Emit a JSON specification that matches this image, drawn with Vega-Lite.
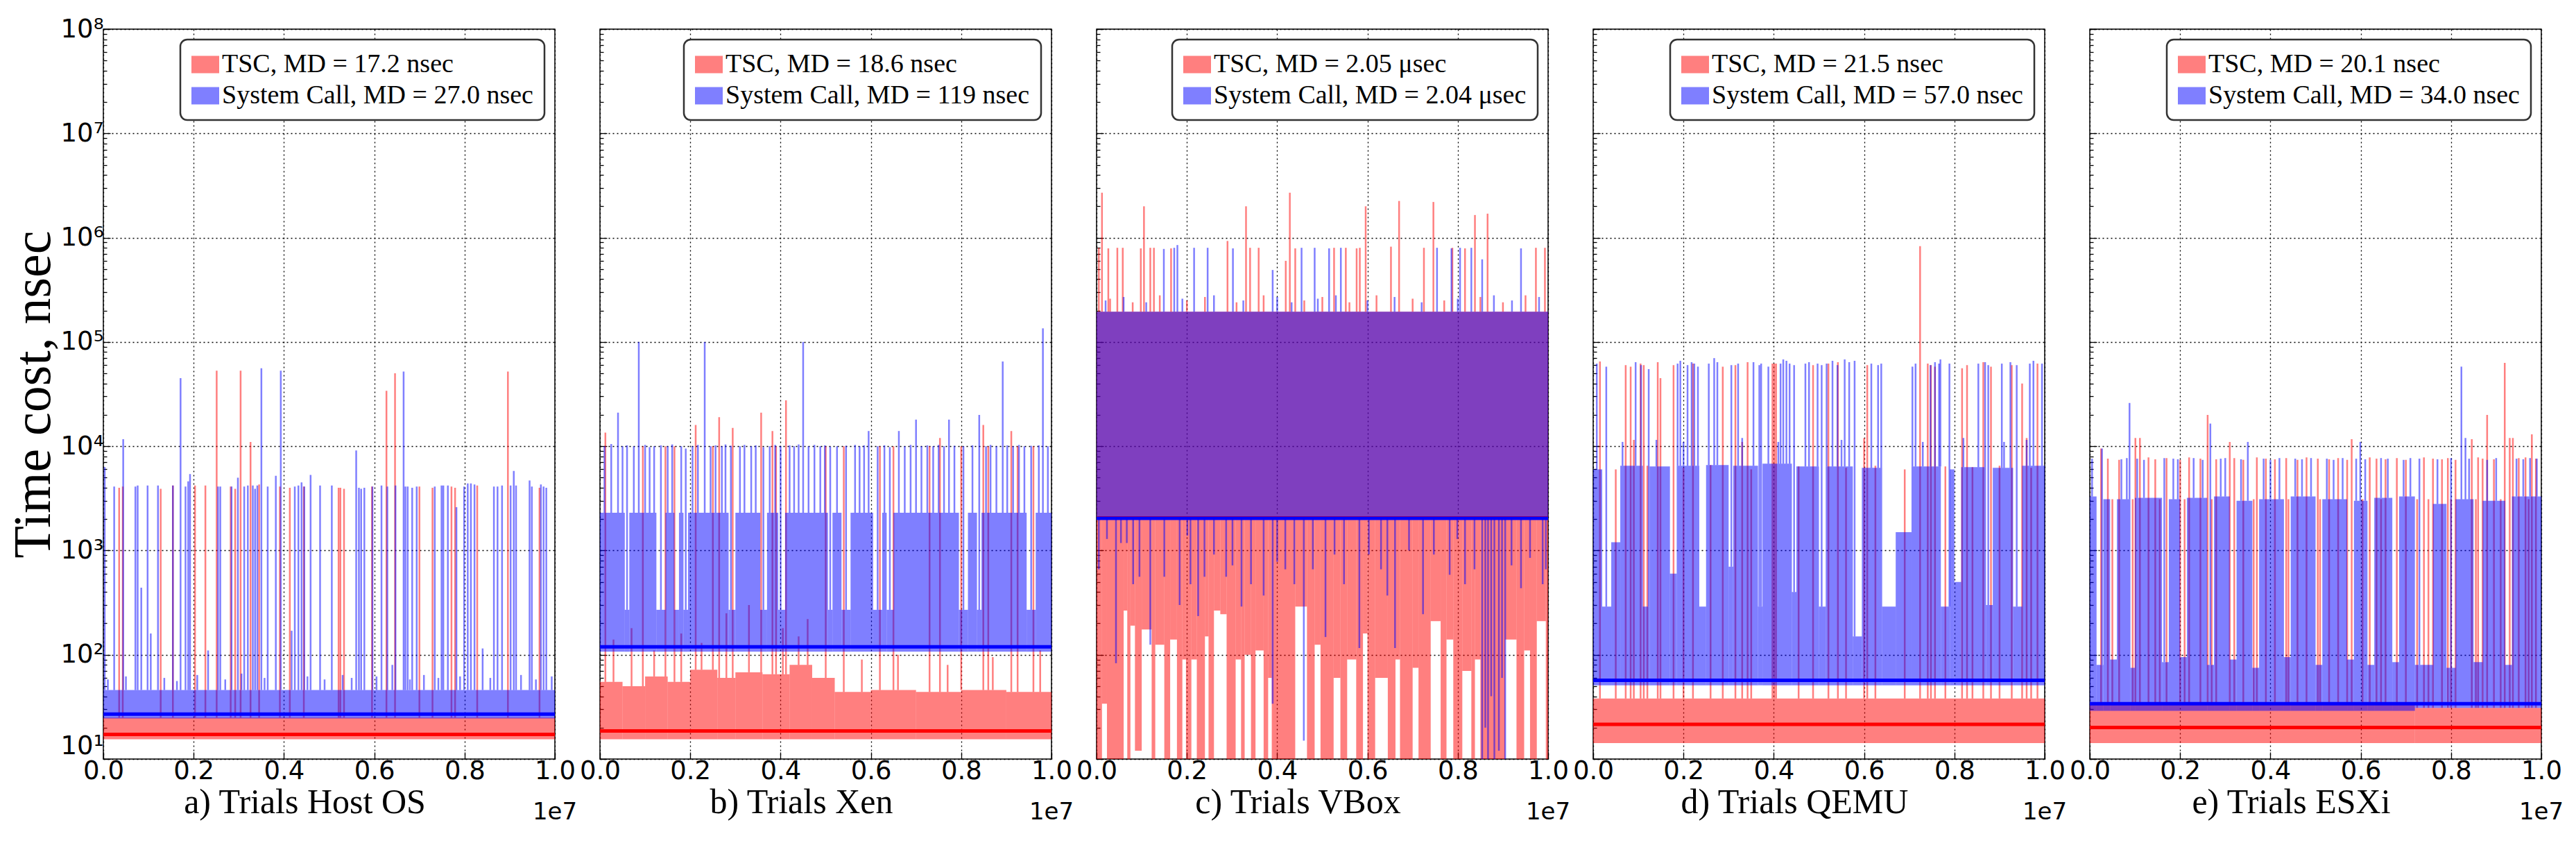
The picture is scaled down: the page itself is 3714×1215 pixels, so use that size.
{
  "$schema": "https://vega.github.io/schema/vega-lite/v6.json",
  "autosize": {"type": "pad"},
  "padding": {"left": 9, "top": 22, "right": 10, "bottom": 5},
  "background": "white",
  "spacing": 65,
  "bounds": "flush",
  "config": {
    "view": {"stroke": "black", "strokeWidth": 1.5},
    "axis": {
      "domain": false, "grid": true, "gridColor": "black", "gridDash": [2, 4], "gridWidth": 1.3,
      "tickColor": "black", "tickWidth": 1.3, "labelFont": "DejaVu Sans", "labelFontSize": 37,
      "labelColor": "black", "titleColor": "black", "titleFontWeight": "normal", "zindex": 1
    },
    "axisY": {"titleFont": "Liberation Serif", "titleFontSize": 76},
    "legend": {
      "orient": "top-right", "offset": 15, "fillColor": "white", "strokeColor": "#333333",
      "strokeWidth": 2.5, "cornerRadius": 10, "padding": 16, "labelFont": "Liberation Serif",
      "labelFontSize": 38, "labelColor": "black", "labelLimit": 900, "labelOffset": 4,
      "symbolType": "M-1,-0.625H1V0.625H-1Z", "symbolSize": 1600, "symbolOpacity": 0.5,
      "symbolStrokeWidth": 0, "rowPadding": 6
    }
  },
  "resolve": {"scale": {"color": "independent"}, "legend": {"color": "independent"}},
  "datasets": {
    "medians": [
      {"p": "a", "s": "TSC", "md": 17.2}, {"p": "a", "s": "System Call", "md": 27.0},
      {"p": "b", "s": "TSC", "md": 18.6}, {"p": "b", "s": "System Call", "md": 119},
      {"p": "c", "s": "TSC", "md": 2050}, {"p": "c", "s": "System Call", "md": 2040},
      {"p": "d", "s": "TSC", "md": 21.5}, {"p": "d", "s": "System Call", "md": 57.0},
      {"p": "e", "s": "TSC", "md": 20.1}, {"p": "e", "s": "System Call", "md": 34.0}
    ],
    "bands": [
      {"p": "a", "s": "TSC", "x": 0, "x2": 1, "lo": 15.5, "hi": 25},
      {"p": "a", "s": "System Call", "x": 0, "x2": 1, "lo": 24.5, "hi": 46},

      {"p": "b", "s": "TSC", "x": 0, "x2": 0.05, "lo": 15.5, "hi": 55},
      {"p": "b", "s": "TSC", "x": 0.05, "x2": 0.1, "lo": 15.5, "hi": 50},
      {"p": "b", "s": "TSC", "x": 0.1, "x2": 0.15, "lo": 15.5, "hi": 62},
      {"p": "b", "s": "TSC", "x": 0.15, "x2": 0.2, "lo": 15.5, "hi": 55},
      {"p": "b", "s": "TSC", "x": 0.2, "x2": 0.26, "lo": 15.5, "hi": 72},
      {"p": "b", "s": "TSC", "x": 0.26, "x2": 0.3, "lo": 15.5, "hi": 60},
      {"p": "b", "s": "TSC", "x": 0.3, "x2": 0.36, "lo": 15.5, "hi": 68},
      {"p": "b", "s": "TSC", "x": 0.36, "x2": 0.42, "lo": 15.5, "hi": 65},
      {"p": "b", "s": "TSC", "x": 0.42, "x2": 0.47, "lo": 15.5, "hi": 80},
      {"p": "b", "s": "TSC", "x": 0.47, "x2": 0.52, "lo": 15.5, "hi": 60},
      {"p": "b", "s": "TSC", "x": 0.52, "x2": 0.6, "lo": 15.5, "hi": 44},
      {"p": "b", "s": "TSC", "x": 0.6, "x2": 0.7, "lo": 15.5, "hi": 46},
      {"p": "b", "s": "TSC", "x": 0.7, "x2": 0.8, "lo": 15.5, "hi": 44},
      {"p": "b", "s": "TSC", "x": 0.8, "x2": 0.9, "lo": 15.5, "hi": 46},
      {"p": "b", "s": "TSC", "x": 0.9, "x2": 1, "lo": 15.5, "hi": 44},
      {"p": "b", "s": "System Call", "x": 0, "x2": 0.055, "lo": 107, "hi": 2300},
      {"p": "b", "s": "System Call", "x": 0.055, "x2": 0.065, "lo": 107, "hi": 270},
      {"p": "b", "s": "System Call", "x": 0.065, "x2": 0.125, "lo": 107, "hi": 2300},
      {"p": "b", "s": "System Call", "x": 0.125, "x2": 0.145, "lo": 107, "hi": 270},
      {"p": "b", "s": "System Call", "x": 0.145, "x2": 0.165, "lo": 107, "hi": 2300},
      {"p": "b", "s": "System Call", "x": 0.165, "x2": 0.175, "lo": 107, "hi": 270},
      {"p": "b", "s": "System Call", "x": 0.175, "x2": 0.185, "lo": 107, "hi": 2300},
      {"p": "b", "s": "System Call", "x": 0.185, "x2": 0.195, "lo": 107, "hi": 270},
      {"p": "b", "s": "System Call", "x": 0.195, "x2": 0.285, "lo": 107, "hi": 2300},
      {"p": "b", "s": "System Call", "x": 0.285, "x2": 0.3, "lo": 107, "hi": 270},
      {"p": "b", "s": "System Call", "x": 0.3, "x2": 0.355, "lo": 107, "hi": 2300},
      {"p": "b", "s": "System Call", "x": 0.355, "x2": 0.37, "lo": 107, "hi": 270},
      {"p": "b", "s": "System Call", "x": 0.37, "x2": 0.395, "lo": 107, "hi": 2300},
      {"p": "b", "s": "System Call", "x": 0.395, "x2": 0.41, "lo": 107, "hi": 270},
      {"p": "b", "s": "System Call", "x": 0.41, "x2": 0.505, "lo": 107, "hi": 2300},
      {"p": "b", "s": "System Call", "x": 0.505, "x2": 0.515, "lo": 107, "hi": 270},
      {"p": "b", "s": "System Call", "x": 0.515, "x2": 0.535, "lo": 107, "hi": 2300},
      {"p": "b", "s": "System Call", "x": 0.535, "x2": 0.555, "lo": 107, "hi": 270},
      {"p": "b", "s": "System Call", "x": 0.555, "x2": 0.605, "lo": 107, "hi": 2300},
      {"p": "b", "s": "System Call", "x": 0.605, "x2": 0.625, "lo": 107, "hi": 270},
      {"p": "b", "s": "System Call", "x": 0.625, "x2": 0.635, "lo": 107, "hi": 2300},
      {"p": "b", "s": "System Call", "x": 0.635, "x2": 0.65, "lo": 107, "hi": 270},
      {"p": "b", "s": "System Call", "x": 0.65, "x2": 0.795, "lo": 107, "hi": 2300},
      {"p": "b", "s": "System Call", "x": 0.795, "x2": 0.815, "lo": 107, "hi": 270},
      {"p": "b", "s": "System Call", "x": 0.815, "x2": 0.835, "lo": 107, "hi": 2300},
      {"p": "b", "s": "System Call", "x": 0.835, "x2": 0.845, "lo": 107, "hi": 270},
      {"p": "b", "s": "System Call", "x": 0.845, "x2": 0.945, "lo": 107, "hi": 2300},
      {"p": "b", "s": "System Call", "x": 0.945, "x2": 0.965, "lo": 107, "hi": 270},
      {"p": "b", "s": "System Call", "x": 0.965, "x2": 1, "lo": 107, "hi": 2300},

      {"p": "c", "s": "TSC", "x": 0, "x2": 1, "lo": 2000, "hi": 195000},
      {"p": "c", "s": "TSC", "x": 0, "x2": 0.012, "lo": 10, "hi": 2000},
      {"p": "c", "s": "TSC", "x": 0.012, "x2": 0.023, "lo": 34, "hi": 2000},
      {"p": "c", "s": "TSC", "x": 0.023, "x2": 0.06, "lo": 10, "hi": 2000},
      {"p": "c", "s": "TSC", "x": 0.06, "x2": 0.068, "lo": 265, "hi": 2000},
      {"p": "c", "s": "TSC", "x": 0.068, "x2": 0.075, "lo": 10, "hi": 2000},
      {"p": "c", "s": "TSC", "x": 0.075, "x2": 0.085, "lo": 190, "hi": 2000},
      {"p": "c", "s": "TSC", "x": 0.085, "x2": 0.1, "lo": 12, "hi": 2000},
      {"p": "c", "s": "TSC", "x": 0.1, "x2": 0.122, "lo": 175, "hi": 2000},
      {"p": "c", "s": "TSC", "x": 0.122, "x2": 0.13, "lo": 10, "hi": 2000},
      {"p": "c", "s": "TSC", "x": 0.13, "x2": 0.15, "lo": 125, "hi": 2000},
      {"p": "c", "s": "TSC", "x": 0.15, "x2": 0.163, "lo": 10, "hi": 2000},
      {"p": "c", "s": "TSC", "x": 0.163, "x2": 0.178, "lo": 140, "hi": 2000},
      {"p": "c", "s": "TSC", "x": 0.178, "x2": 0.19, "lo": 10, "hi": 2000},
      {"p": "c", "s": "TSC", "x": 0.19, "x2": 0.198, "lo": 90, "hi": 2000},
      {"p": "c", "s": "TSC", "x": 0.198, "x2": 0.21, "lo": 10, "hi": 2000},
      {"p": "c", "s": "TSC", "x": 0.21, "x2": 0.222, "lo": 90, "hi": 2000},
      {"p": "c", "s": "TSC", "x": 0.222, "x2": 0.24, "lo": 10, "hi": 2000},
      {"p": "c", "s": "TSC", "x": 0.24, "x2": 0.248, "lo": 150, "hi": 2000},
      {"p": "c", "s": "TSC", "x": 0.248, "x2": 0.26, "lo": 10, "hi": 2000},
      {"p": "c", "s": "TSC", "x": 0.26, "x2": 0.274, "lo": 265, "hi": 2000},
      {"p": "c", "s": "TSC", "x": 0.274, "x2": 0.288, "lo": 245, "hi": 2000},
      {"p": "c", "s": "TSC", "x": 0.288, "x2": 0.308, "lo": 10, "hi": 2000},
      {"p": "c", "s": "TSC", "x": 0.308, "x2": 0.32, "lo": 90, "hi": 2000},
      {"p": "c", "s": "TSC", "x": 0.32, "x2": 0.328, "lo": 10, "hi": 2000},
      {"p": "c", "s": "TSC", "x": 0.328, "x2": 0.342, "lo": 100, "hi": 2000},
      {"p": "c", "s": "TSC", "x": 0.342, "x2": 0.352, "lo": 10, "hi": 2000},
      {"p": "c", "s": "TSC", "x": 0.352, "x2": 0.37, "lo": 110, "hi": 2000},
      {"p": "c", "s": "TSC", "x": 0.37, "x2": 0.38, "lo": 10, "hi": 2000},
      {"p": "c", "s": "TSC", "x": 0.38, "x2": 0.388, "lo": 60, "hi": 2000},
      {"p": "c", "s": "TSC", "x": 0.388, "x2": 0.44, "lo": 10, "hi": 2000},
      {"p": "c", "s": "TSC", "x": 0.44, "x2": 0.466, "lo": 290, "hi": 2000},
      {"p": "c", "s": "TSC", "x": 0.466, "x2": 0.483, "lo": 10, "hi": 2000},
      {"p": "c", "s": "TSC", "x": 0.483, "x2": 0.496, "lo": 125, "hi": 2000},
      {"p": "c", "s": "TSC", "x": 0.496, "x2": 0.525, "lo": 10, "hi": 2000},
      {"p": "c", "s": "TSC", "x": 0.525, "x2": 0.54, "lo": 60, "hi": 2000},
      {"p": "c", "s": "TSC", "x": 0.54, "x2": 0.555, "lo": 10, "hi": 2000},
      {"p": "c", "s": "TSC", "x": 0.555, "x2": 0.575, "lo": 90, "hi": 2000},
      {"p": "c", "s": "TSC", "x": 0.575, "x2": 0.59, "lo": 10, "hi": 2000},
      {"p": "c", "s": "TSC", "x": 0.59, "x2": 0.6, "lo": 160, "hi": 2000},
      {"p": "c", "s": "TSC", "x": 0.6, "x2": 0.617, "lo": 10, "hi": 2000},
      {"p": "c", "s": "TSC", "x": 0.617, "x2": 0.645, "lo": 60, "hi": 2000},
      {"p": "c", "s": "TSC", "x": 0.645, "x2": 0.662, "lo": 10, "hi": 2000},
      {"p": "c", "s": "TSC", "x": 0.662, "x2": 0.672, "lo": 90, "hi": 2000},
      {"p": "c", "s": "TSC", "x": 0.672, "x2": 0.7, "lo": 10, "hi": 2000},
      {"p": "c", "s": "TSC", "x": 0.7, "x2": 0.713, "lo": 75, "hi": 2000},
      {"p": "c", "s": "TSC", "x": 0.713, "x2": 0.74, "lo": 10, "hi": 2000},
      {"p": "c", "s": "TSC", "x": 0.74, "x2": 0.762, "lo": 210, "hi": 2000},
      {"p": "c", "s": "TSC", "x": 0.762, "x2": 0.775, "lo": 10, "hi": 2000},
      {"p": "c", "s": "TSC", "x": 0.775, "x2": 0.79, "lo": 140, "hi": 2000},
      {"p": "c", "s": "TSC", "x": 0.79, "x2": 0.81, "lo": 10, "hi": 2000},
      {"p": "c", "s": "TSC", "x": 0.81, "x2": 0.83, "lo": 70, "hi": 2000},
      {"p": "c", "s": "TSC", "x": 0.83, "x2": 0.838, "lo": 10, "hi": 2000},
      {"p": "c", "s": "TSC", "x": 0.838, "x2": 0.85, "lo": 90, "hi": 2000},
      {"p": "c", "s": "TSC", "x": 0.85, "x2": 0.905, "lo": 10, "hi": 2000},
      {"p": "c", "s": "TSC", "x": 0.905, "x2": 0.93, "lo": 140, "hi": 2000},
      {"p": "c", "s": "TSC", "x": 0.93, "x2": 0.947, "lo": 10, "hi": 2000},
      {"p": "c", "s": "TSC", "x": 0.947, "x2": 0.96, "lo": 110, "hi": 2000},
      {"p": "c", "s": "TSC", "x": 0.96, "x2": 0.975, "lo": 10, "hi": 2000},
      {"p": "c", "s": "TSC", "x": 0.975, "x2": 0.995, "lo": 210, "hi": 2000},
      {"p": "c", "s": "TSC", "x": 0.995, "x2": 1, "lo": 10, "hi": 2000},
      {"p": "c", "s": "System Call", "x": 0, "x2": 1, "lo": 2040, "hi": 195000},

      {"p": "d", "s": "TSC", "x": 0, "x2": 1, "lo": 14.2, "hi": 38},
      {"p": "d", "s": "System Call", "x": 0, "x2": 0.02, "lo": 51, "hi": 6000},
      {"p": "d", "s": "System Call", "x": 0.02, "x2": 0.04, "lo": 51, "hi": 290},
      {"p": "d", "s": "System Call", "x": 0.04, "x2": 0.06, "lo": 51, "hi": 1200},
      {"p": "d", "s": "System Call", "x": 0.06, "x2": 0.11, "lo": 51, "hi": 6500},
      {"p": "d", "s": "System Call", "x": 0.11, "x2": 0.125, "lo": 51, "hi": 290},
      {"p": "d", "s": "System Call", "x": 0.125, "x2": 0.17, "lo": 51, "hi": 6400},
      {"p": "d", "s": "System Call", "x": 0.17, "x2": 0.185, "lo": 51, "hi": 600},
      {"p": "d", "s": "System Call", "x": 0.185, "x2": 0.235, "lo": 51, "hi": 6500},
      {"p": "d", "s": "System Call", "x": 0.235, "x2": 0.25, "lo": 51, "hi": 290},
      {"p": "d", "s": "System Call", "x": 0.25, "x2": 0.3, "lo": 51, "hi": 6600},
      {"p": "d", "s": "System Call", "x": 0.3, "x2": 0.31, "lo": 51, "hi": 700},
      {"p": "d", "s": "System Call", "x": 0.31, "x2": 0.365, "lo": 51, "hi": 6500},
      {"p": "d", "s": "System Call", "x": 0.365, "x2": 0.375, "lo": 51, "hi": 290},
      {"p": "d", "s": "System Call", "x": 0.375, "x2": 0.44, "lo": 51, "hi": 6800},
      {"p": "d", "s": "System Call", "x": 0.44, "x2": 0.45, "lo": 51, "hi": 400},
      {"p": "d", "s": "System Call", "x": 0.45, "x2": 0.5, "lo": 51, "hi": 6400},
      {"p": "d", "s": "System Call", "x": 0.5, "x2": 0.515, "lo": 51, "hi": 290},
      {"p": "d", "s": "System Call", "x": 0.515, "x2": 0.575, "lo": 51, "hi": 6400},
      {"p": "d", "s": "System Call", "x": 0.575, "x2": 0.595, "lo": 51, "hi": 150},
      {"p": "d", "s": "System Call", "x": 0.595, "x2": 0.64, "lo": 51, "hi": 6200},
      {"p": "d", "s": "System Call", "x": 0.64, "x2": 0.67, "lo": 51, "hi": 290},
      {"p": "d", "s": "System Call", "x": 0.67, "x2": 0.705, "lo": 51, "hi": 1500},
      {"p": "d", "s": "System Call", "x": 0.705, "x2": 0.77, "lo": 51, "hi": 6400},
      {"p": "d", "s": "System Call", "x": 0.77, "x2": 0.79, "lo": 51, "hi": 290},
      {"p": "d", "s": "System Call", "x": 0.79, "x2": 0.8, "lo": 51, "hi": 6000},
      {"p": "d", "s": "System Call", "x": 0.8, "x2": 0.815, "lo": 51, "hi": 500},
      {"p": "d", "s": "System Call", "x": 0.815, "x2": 0.87, "lo": 51, "hi": 6300},
      {"p": "d", "s": "System Call", "x": 0.87, "x2": 0.885, "lo": 51, "hi": 300},
      {"p": "d", "s": "System Call", "x": 0.885, "x2": 0.93, "lo": 51, "hi": 6200},
      {"p": "d", "s": "System Call", "x": 0.93, "x2": 0.95, "lo": 51, "hi": 290},
      {"p": "d", "s": "System Call", "x": 0.95, "x2": 1, "lo": 51, "hi": 6500},

      {"p": "e", "s": "TSC", "x": 0, "x2": 0.72, "lo": 14.2, "hi": 35},
      {"p": "e", "s": "TSC", "x": 0.72, "x2": 1, "lo": 14.2, "hi": 31},
      {"p": "e", "s": "System Call", "x": 0, "x2": 0.015, "lo": 29, "hi": 3300},
      {"p": "e", "s": "System Call", "x": 0.015, "x2": 0.03, "lo": 29, "hi": 80},
      {"p": "e", "s": "System Call", "x": 0.03, "x2": 0.045, "lo": 29, "hi": 3100},
      {"p": "e", "s": "System Call", "x": 0.045, "x2": 0.06, "lo": 29, "hi": 90},
      {"p": "e", "s": "System Call", "x": 0.06, "x2": 0.09, "lo": 29, "hi": 3100},
      {"p": "e", "s": "System Call", "x": 0.09, "x2": 0.1, "lo": 29, "hi": 75},
      {"p": "e", "s": "System Call", "x": 0.1, "x2": 0.16, "lo": 29, "hi": 3200},
      {"p": "e", "s": "System Call", "x": 0.16, "x2": 0.175, "lo": 29, "hi": 85},
      {"p": "e", "s": "System Call", "x": 0.175, "x2": 0.2, "lo": 29, "hi": 3100},
      {"p": "e", "s": "System Call", "x": 0.2, "x2": 0.215, "lo": 29, "hi": 95},
      {"p": "e", "s": "System Call", "x": 0.215, "x2": 0.26, "lo": 29, "hi": 3200},
      {"p": "e", "s": "System Call", "x": 0.26, "x2": 0.275, "lo": 29, "hi": 80},
      {"p": "e", "s": "System Call", "x": 0.275, "x2": 0.31, "lo": 29, "hi": 3300},
      {"p": "e", "s": "System Call", "x": 0.31, "x2": 0.325, "lo": 29, "hi": 90},
      {"p": "e", "s": "System Call", "x": 0.325, "x2": 0.36, "lo": 29, "hi": 3000},
      {"p": "e", "s": "System Call", "x": 0.36, "x2": 0.375, "lo": 29, "hi": 75},
      {"p": "e", "s": "System Call", "x": 0.375, "x2": 0.43, "lo": 29, "hi": 3100},
      {"p": "e", "s": "System Call", "x": 0.43, "x2": 0.445, "lo": 29, "hi": 95},
      {"p": "e", "s": "System Call", "x": 0.445, "x2": 0.5, "lo": 29, "hi": 3300},
      {"p": "e", "s": "System Call", "x": 0.5, "x2": 0.515, "lo": 29, "hi": 80},
      {"p": "e", "s": "System Call", "x": 0.515, "x2": 0.57, "lo": 29, "hi": 3100},
      {"p": "e", "s": "System Call", "x": 0.57, "x2": 0.585, "lo": 29, "hi": 90},
      {"p": "e", "s": "System Call", "x": 0.585, "x2": 0.615, "lo": 29, "hi": 3000},
      {"p": "e", "s": "System Call", "x": 0.615, "x2": 0.63, "lo": 29, "hi": 80},
      {"p": "e", "s": "System Call", "x": 0.63, "x2": 0.67, "lo": 29, "hi": 3200},
      {"p": "e", "s": "System Call", "x": 0.67, "x2": 0.685, "lo": 29, "hi": 85},
      {"p": "e", "s": "System Call", "x": 0.685, "x2": 0.72, "lo": 29, "hi": 3300},
      {"p": "e", "s": "System Call", "x": 0.72, "x2": 0.76, "lo": 31, "hi": 80},
      {"p": "e", "s": "System Call", "x": 0.76, "x2": 0.79, "lo": 31, "hi": 2800},
      {"p": "e", "s": "System Call", "x": 0.79, "x2": 0.81, "lo": 31, "hi": 75},
      {"p": "e", "s": "System Call", "x": 0.81, "x2": 0.85, "lo": 31, "hi": 3100},
      {"p": "e", "s": "System Call", "x": 0.85, "x2": 0.87, "lo": 31, "hi": 85},
      {"p": "e", "s": "System Call", "x": 0.87, "x2": 0.92, "lo": 31, "hi": 3000},
      {"p": "e", "s": "System Call", "x": 0.92, "x2": 0.935, "lo": 31, "hi": 80},
      {"p": "e", "s": "System Call", "x": 0.935, "x2": 1, "lo": 31, "hi": 3300}
    ],
    "spikes": [
      {"p": "a", "s": "TSC", "x": 0.035, "lo": 25, "hi": 4000},
      {"p": "a", "s": "TSC", "x": 0.043, "lo": 25, "hi": 4100},
      {"p": "a", "s": "TSC", "x": 0.127, "lo": 25, "hi": 3900},
      {"p": "a", "s": "TSC", "x": 0.154, "lo": 25, "hi": 4200},
      {"p": "a", "s": "TSC", "x": 0.203, "lo": 25, "hi": 4200},
      {"p": "a", "s": "TSC", "x": 0.226, "lo": 25, "hi": 4200},
      {"p": "a", "s": "TSC", "x": 0.251, "lo": 25, "hi": 53000},
      {"p": "a", "s": "TSC", "x": 0.282, "lo": 25, "hi": 4100},
      {"p": "a", "s": "TSC", "x": 0.292, "lo": 25, "hi": 3900},
      {"p": "a", "s": "TSC", "x": 0.304, "lo": 25, "hi": 53000},
      {"p": "a", "s": "TSC", "x": 0.326, "lo": 25, "hi": 11000},
      {"p": "a", "s": "TSC", "x": 0.345, "lo": 25, "hi": 4300},
      {"p": "a", "s": "TSC", "x": 0.391, "lo": 25, "hi": 4100},
      {"p": "a", "s": "TSC", "x": 0.413, "lo": 25, "hi": 4000},
      {"p": "a", "s": "TSC", "x": 0.444, "lo": 25, "hi": 4100},
      {"p": "a", "s": "TSC", "x": 0.521, "lo": 25, "hi": 4000},
      {"p": "a", "s": "TSC", "x": 0.525, "lo": 25, "hi": 4000},
      {"p": "a", "s": "TSC", "x": 0.533, "lo": 25, "hi": 3900},
      {"p": "a", "s": "TSC", "x": 0.595, "lo": 25, "hi": 4100},
      {"p": "a", "s": "TSC", "x": 0.627, "lo": 25, "hi": 34000},
      {"p": "a", "s": "TSC", "x": 0.646, "lo": 25, "hi": 50000},
      {"p": "a", "s": "TSC", "x": 0.7, "lo": 25, "hi": 4100},
      {"p": "a", "s": "TSC", "x": 0.729, "lo": 25, "hi": 4000},
      {"p": "a", "s": "TSC", "x": 0.771, "lo": 25, "hi": 4100},
      {"p": "a", "s": "TSC", "x": 0.779, "lo": 25, "hi": 4000},
      {"p": "a", "s": "TSC", "x": 0.828, "lo": 25, "hi": 4200},
      {"p": "a", "s": "TSC", "x": 0.896, "lo": 25, "hi": 52000},
      {"p": "a", "s": "TSC", "x": 0.966, "lo": 25, "hi": 4000},
      {"p": "a", "s": "System Call", "x": 0.003, "lo": 46, "hi": 6300},
      {"p": "a", "s": "System Call", "x": 0.024, "lo": 46, "hi": 4100},
      {"p": "a", "s": "System Call", "x": 0.044, "lo": 46, "hi": 11700},
      {"p": "a", "s": "System Call", "x": 0.071, "lo": 46, "hi": 4100},
      {"p": "a", "s": "System Call", "x": 0.076, "lo": 46, "hi": 4200},
      {"p": "a", "s": "System Call", "x": 0.098, "lo": 46, "hi": 4200},
      {"p": "a", "s": "System Call", "x": 0.121, "lo": 46, "hi": 4200},
      {"p": "a", "s": "System Call", "x": 0.154, "lo": 46, "hi": 4200},
      {"p": "a", "s": "System Call", "x": 0.171, "lo": 46, "hi": 45000},
      {"p": "a", "s": "System Call", "x": 0.182, "lo": 46, "hi": 4100},
      {"p": "a", "s": "System Call", "x": 0.188, "lo": 46, "hi": 4600},
      {"p": "a", "s": "System Call", "x": 0.192, "lo": 46, "hi": 5400},
      {"p": "a", "s": "System Call", "x": 0.254, "lo": 46, "hi": 4100},
      {"p": "a", "s": "System Call", "x": 0.259, "lo": 46, "hi": 4100},
      {"p": "a", "s": "System Call", "x": 0.284, "lo": 46, "hi": 4100},
      {"p": "a", "s": "System Call", "x": 0.298, "lo": 46, "hi": 5000},
      {"p": "a", "s": "System Call", "x": 0.312, "lo": 46, "hi": 4100},
      {"p": "a", "s": "System Call", "x": 0.32, "lo": 46, "hi": 4200},
      {"p": "a", "s": "System Call", "x": 0.331, "lo": 46, "hi": 4200},
      {"p": "a", "s": "System Call", "x": 0.336, "lo": 46, "hi": 3900},
      {"p": "a", "s": "System Call", "x": 0.341, "lo": 46, "hi": 4200},
      {"p": "a", "s": "System Call", "x": 0.35, "lo": 46, "hi": 56000},
      {"p": "a", "s": "System Call", "x": 0.364, "lo": 46, "hi": 4100},
      {"p": "a", "s": "System Call", "x": 0.382, "lo": 46, "hi": 5200},
      {"p": "a", "s": "System Call", "x": 0.393, "lo": 46, "hi": 53000},
      {"p": "a", "s": "System Call", "x": 0.424, "lo": 46, "hi": 4100},
      {"p": "a", "s": "System Call", "x": 0.432, "lo": 46, "hi": 4200},
      {"p": "a", "s": "System Call", "x": 0.439, "lo": 46, "hi": 4500},
      {"p": "a", "s": "System Call", "x": 0.445, "lo": 46, "hi": 4100},
      {"p": "a", "s": "System Call", "x": 0.459, "lo": 46, "hi": 5300},
      {"p": "a", "s": "System Call", "x": 0.48, "lo": 46, "hi": 4200},
      {"p": "a", "s": "System Call", "x": 0.506, "lo": 46, "hi": 4200},
      {"p": "a", "s": "System Call", "x": 0.56, "lo": 46, "hi": 9100},
      {"p": "a", "s": "System Call", "x": 0.566, "lo": 46, "hi": 4000},
      {"p": "a", "s": "System Call", "x": 0.571, "lo": 46, "hi": 3900},
      {"p": "a", "s": "System Call", "x": 0.578, "lo": 46, "hi": 4000},
      {"p": "a", "s": "System Call", "x": 0.596, "lo": 46, "hi": 4100},
      {"p": "a", "s": "System Call", "x": 0.616, "lo": 46, "hi": 4200},
      {"p": "a", "s": "System Call", "x": 0.629, "lo": 46, "hi": 4100},
      {"p": "a", "s": "System Call", "x": 0.647, "lo": 46, "hi": 4200},
      {"p": "a", "s": "System Call", "x": 0.665, "lo": 46, "hi": 52000},
      {"p": "a", "s": "System Call", "x": 0.669, "lo": 46, "hi": 4100},
      {"p": "a", "s": "System Call", "x": 0.674, "lo": 46, "hi": 4100},
      {"p": "a", "s": "System Call", "x": 0.684, "lo": 46, "hi": 4000},
      {"p": "a", "s": "System Call", "x": 0.694, "lo": 46, "hi": 4100},
      {"p": "a", "s": "System Call", "x": 0.734, "lo": 46, "hi": 4100},
      {"p": "a", "s": "System Call", "x": 0.749, "lo": 46, "hi": 4200},
      {"p": "a", "s": "System Call", "x": 0.753, "lo": 46, "hi": 4200},
      {"p": "a", "s": "System Call", "x": 0.763, "lo": 46, "hi": 4200},
      {"p": "a", "s": "System Call", "x": 0.782, "lo": 46, "hi": 2600},
      {"p": "a", "s": "System Call", "x": 0.799, "lo": 46, "hi": 4100},
      {"p": "a", "s": "System Call", "x": 0.807, "lo": 46, "hi": 4400},
      {"p": "a", "s": "System Call", "x": 0.814, "lo": 46, "hi": 4400},
      {"p": "a", "s": "System Call", "x": 0.822, "lo": 46, "hi": 4300},
      {"p": "a", "s": "System Call", "x": 0.865, "lo": 46, "hi": 4100},
      {"p": "a", "s": "System Call", "x": 0.873, "lo": 46, "hi": 4100},
      {"p": "a", "s": "System Call", "x": 0.883, "lo": 46, "hi": 4200},
      {"p": "a", "s": "System Call", "x": 0.902, "lo": 46, "hi": 4200},
      {"p": "a", "s": "System Call", "x": 0.909, "lo": 46, "hi": 5800},
      {"p": "a", "s": "System Call", "x": 0.914, "lo": 46, "hi": 4200},
      {"p": "a", "s": "System Call", "x": 0.944, "lo": 46, "hi": 4700},
      {"p": "a", "s": "System Call", "x": 0.949, "lo": 46, "hi": 4100},
      {"p": "a", "s": "System Call", "x": 0.969, "lo": 46, "hi": 4300},
      {"p": "a", "s": "System Call", "x": 0.975, "lo": 46, "hi": 4100},
      {"p": "a", "s": "System Call", "x": 0.981, "lo": 46, "hi": 4000},
      {"p": "a", "s": "System Call", "x": 0.01, "lo": 46, "hi": 58},
      {"p": "a", "s": "System Call", "x": 0.05, "lo": 46, "hi": 62},
      {"p": "a", "s": "System Call", "x": 0.084, "lo": 46, "hi": 440},
      {"p": "a", "s": "System Call", "x": 0.105, "lo": 46, "hi": 160},
      {"p": "a", "s": "System Call", "x": 0.135, "lo": 46, "hi": 60},
      {"p": "a", "s": "System Call", "x": 0.163, "lo": 46, "hi": 56},
      {"p": "a", "s": "System Call", "x": 0.208, "lo": 46, "hi": 64},
      {"p": "a", "s": "System Call", "x": 0.232, "lo": 46, "hi": 110},
      {"p": "a", "s": "System Call", "x": 0.27, "lo": 46, "hi": 58},
      {"p": "a", "s": "System Call", "x": 0.306, "lo": 46, "hi": 66},
      {"p": "a", "s": "System Call", "x": 0.357, "lo": 46, "hi": 60},
      {"p": "a", "s": "System Call", "x": 0.417, "lo": 46, "hi": 170},
      {"p": "a", "s": "System Call", "x": 0.452, "lo": 46, "hi": 62},
      {"p": "a", "s": "System Call", "x": 0.49, "lo": 46, "hi": 58},
      {"p": "a", "s": "System Call", "x": 0.53, "lo": 46, "hi": 64},
      {"p": "a", "s": "System Call", "x": 0.55, "lo": 46, "hi": 60},
      {"p": "a", "s": "System Call", "x": 0.605, "lo": 46, "hi": 62},
      {"p": "a", "s": "System Call", "x": 0.64, "lo": 46, "hi": 80},
      {"p": "a", "s": "System Call", "x": 0.679, "lo": 46, "hi": 58},
      {"p": "a", "s": "System Call", "x": 0.71, "lo": 46, "hi": 64},
      {"p": "a", "s": "System Call", "x": 0.742, "lo": 46, "hi": 60},
      {"p": "a", "s": "System Call", "x": 0.79, "lo": 46, "hi": 62},
      {"p": "a", "s": "System Call", "x": 0.84, "lo": 46, "hi": 115},
      {"p": "a", "s": "System Call", "x": 0.857, "lo": 46, "hi": 60},
      {"p": "a", "s": "System Call", "x": 0.925, "lo": 46, "hi": 64},
      {"p": "a", "s": "System Call", "x": 0.958, "lo": 46, "hi": 58},
      {"p": "a", "s": "System Call", "x": 0.993, "lo": 46, "hi": 62},

      {"p": "b", "s": "TSC", "x": 0.012, "lo": 55, "hi": 13500},
      {"p": "b", "s": "TSC", "x": 0.03, "lo": 55, "hi": 140},
      {"p": "b", "s": "TSC", "x": 0.07, "lo": 50, "hi": 180},
      {"p": "b", "s": "TSC", "x": 0.095, "lo": 50, "hi": 10000},
      {"p": "b", "s": "TSC", "x": 0.12, "lo": 62, "hi": 110},
      {"p": "b", "s": "TSC", "x": 0.145, "lo": 62, "hi": 10000},
      {"p": "b", "s": "TSC", "x": 0.165, "lo": 55, "hi": 10000},
      {"p": "b", "s": "TSC", "x": 0.18, "lo": 55, "hi": 160},
      {"p": "b", "s": "TSC", "x": 0.212, "lo": 72, "hi": 16000},
      {"p": "b", "s": "TSC", "x": 0.225, "lo": 72, "hi": 130},
      {"p": "b", "s": "TSC", "x": 0.25, "lo": 72, "hi": 10000},
      {"p": "b", "s": "TSC", "x": 0.264, "lo": 60, "hi": 19000},
      {"p": "b", "s": "TSC", "x": 0.28, "lo": 60, "hi": 250},
      {"p": "b", "s": "TSC", "x": 0.294, "lo": 60, "hi": 15000},
      {"p": "b", "s": "TSC", "x": 0.33, "lo": 68, "hi": 300},
      {"p": "b", "s": "TSC", "x": 0.357, "lo": 68, "hi": 21000},
      {"p": "b", "s": "TSC", "x": 0.382, "lo": 65, "hi": 14000},
      {"p": "b", "s": "TSC", "x": 0.39, "lo": 65, "hi": 10000},
      {"p": "b", "s": "TSC", "x": 0.405, "lo": 65, "hi": 180},
      {"p": "b", "s": "TSC", "x": 0.412, "lo": 65, "hi": 27500},
      {"p": "b", "s": "TSC", "x": 0.44, "lo": 80, "hi": 150},
      {"p": "b", "s": "TSC", "x": 0.46, "lo": 80, "hi": 220},
      {"p": "b", "s": "TSC", "x": 0.5, "lo": 60, "hi": 10000},
      {"p": "b", "s": "TSC", "x": 0.54, "lo": 44, "hi": 10000},
      {"p": "b", "s": "TSC", "x": 0.58, "lo": 44, "hi": 90},
      {"p": "b", "s": "TSC", "x": 0.62, "lo": 46, "hi": 10000},
      {"p": "b", "s": "TSC", "x": 0.65, "lo": 46, "hi": 10000},
      {"p": "b", "s": "TSC", "x": 0.66, "lo": 46, "hi": 100},
      {"p": "b", "s": "TSC", "x": 0.73, "lo": 44, "hi": 10000},
      {"p": "b", "s": "TSC", "x": 0.753, "lo": 44, "hi": 12000},
      {"p": "b", "s": "TSC", "x": 0.77, "lo": 44, "hi": 80},
      {"p": "b", "s": "TSC", "x": 0.8, "lo": 46, "hi": 10000},
      {"p": "b", "s": "TSC", "x": 0.849, "lo": 46, "hi": 16000},
      {"p": "b", "s": "TSC", "x": 0.86, "lo": 46, "hi": 10000},
      {"p": "b", "s": "TSC", "x": 0.87, "lo": 46, "hi": 95},
      {"p": "b", "s": "TSC", "x": 0.911, "lo": 44, "hi": 14000},
      {"p": "b", "s": "TSC", "x": 0.925, "lo": 44, "hi": 10000},
      {"p": "b", "s": "TSC", "x": 0.96, "lo": 44, "hi": 10000},
      {"p": "b", "s": "TSC", "x": 0.975, "lo": 44, "hi": 110},
      {"p": "b", "s": "System Call", "x": 0.01, "lo": 2300, "hi": 10000},
      {"p": "b", "s": "System Call", "x": 0.025, "lo": 2300, "hi": 10500},
      {"p": "b", "s": "System Call", "x": 0.04, "lo": 2300, "hi": 21000},
      {"p": "b", "s": "System Call", "x": 0.05, "lo": 2300, "hi": 10000},
      {"p": "b", "s": "System Call", "x": 0.06, "lo": 270, "hi": 10200},
      {"p": "b", "s": "System Call", "x": 0.075, "lo": 2300, "hi": 10000},
      {"p": "b", "s": "System Call", "x": 0.086, "lo": 2300, "hi": 100000},
      {"p": "b", "s": "System Call", "x": 0.1, "lo": 2300, "hi": 10300},
      {"p": "b", "s": "System Call", "x": 0.11, "lo": 2300, "hi": 9800},
      {"p": "b", "s": "System Call", "x": 0.12, "lo": 2300, "hi": 10000},
      {"p": "b", "s": "System Call", "x": 0.135, "lo": 270, "hi": 10200},
      {"p": "b", "s": "System Call", "x": 0.15, "lo": 2300, "hi": 10000},
      {"p": "b", "s": "System Call", "x": 0.16, "lo": 2300, "hi": 10400},
      {"p": "b", "s": "System Call", "x": 0.18, "lo": 2300, "hi": 10000},
      {"p": "b", "s": "System Call", "x": 0.19, "lo": 270, "hi": 9500},
      {"p": "b", "s": "System Call", "x": 0.205, "lo": 2300, "hi": 10000},
      {"p": "b", "s": "System Call", "x": 0.217, "lo": 2300, "hi": 10300},
      {"p": "b", "s": "System Call", "x": 0.232, "lo": 2300, "hi": 100000},
      {"p": "b", "s": "System Call", "x": 0.245, "lo": 2300, "hi": 10000},
      {"p": "b", "s": "System Call", "x": 0.256, "lo": 2300, "hi": 10200},
      {"p": "b", "s": "System Call", "x": 0.27, "lo": 2300, "hi": 10000},
      {"p": "b", "s": "System Call", "x": 0.278, "lo": 2300, "hi": 10400},
      {"p": "b", "s": "System Call", "x": 0.29, "lo": 270, "hi": 10100},
      {"p": "b", "s": "System Call", "x": 0.31, "lo": 2300, "hi": 10000},
      {"p": "b", "s": "System Call", "x": 0.32, "lo": 2300, "hi": 10300},
      {"p": "b", "s": "System Call", "x": 0.335, "lo": 2300, "hi": 10000},
      {"p": "b", "s": "System Call", "x": 0.345, "lo": 2300, "hi": 10200},
      {"p": "b", "s": "System Call", "x": 0.362, "lo": 270, "hi": 9800},
      {"p": "b", "s": "System Call", "x": 0.376, "lo": 2300, "hi": 10000},
      {"p": "b", "s": "System Call", "x": 0.388, "lo": 2300, "hi": 10300},
      {"p": "b", "s": "System Call", "x": 0.4, "lo": 270, "hi": 10000},
      {"p": "b", "s": "System Call", "x": 0.42, "lo": 2300, "hi": 10200},
      {"p": "b", "s": "System Call", "x": 0.43, "lo": 2300, "hi": 10000},
      {"p": "b", "s": "System Call", "x": 0.44, "lo": 2300, "hi": 10400},
      {"p": "b", "s": "System Call", "x": 0.45, "lo": 2300, "hi": 100000},
      {"p": "b", "s": "System Call", "x": 0.462, "lo": 2300, "hi": 10000},
      {"p": "b", "s": "System Call", "x": 0.475, "lo": 2300, "hi": 10300},
      {"p": "b", "s": "System Call", "x": 0.488, "lo": 2300, "hi": 10000},
      {"p": "b", "s": "System Call", "x": 0.498, "lo": 2300, "hi": 10200},
      {"p": "b", "s": "System Call", "x": 0.51, "lo": 270, "hi": 9900},
      {"p": "b", "s": "System Call", "x": 0.525, "lo": 2300, "hi": 10000},
      {"p": "b", "s": "System Call", "x": 0.545, "lo": 270, "hi": 10100},
      {"p": "b", "s": "System Call", "x": 0.565, "lo": 2300, "hi": 10300},
      {"p": "b", "s": "System Call", "x": 0.575, "lo": 2300, "hi": 10000},
      {"p": "b", "s": "System Call", "x": 0.585, "lo": 2300, "hi": 10200},
      {"p": "b", "s": "System Call", "x": 0.595, "lo": 2300, "hi": 14000},
      {"p": "b", "s": "System Call", "x": 0.615, "lo": 270, "hi": 10000},
      {"p": "b", "s": "System Call", "x": 0.63, "lo": 2300, "hi": 10200},
      {"p": "b", "s": "System Call", "x": 0.642, "lo": 270, "hi": 9800},
      {"p": "b", "s": "System Call", "x": 0.662, "lo": 2300, "hi": 14000},
      {"p": "b", "s": "System Call", "x": 0.675, "lo": 2300, "hi": 10000},
      {"p": "b", "s": "System Call", "x": 0.688, "lo": 2300, "hi": 10300},
      {"p": "b", "s": "System Call", "x": 0.7, "lo": 2300, "hi": 18000},
      {"p": "b", "s": "System Call", "x": 0.712, "lo": 2300, "hi": 10000},
      {"p": "b", "s": "System Call", "x": 0.725, "lo": 2300, "hi": 10200},
      {"p": "b", "s": "System Call", "x": 0.738, "lo": 2300, "hi": 10000},
      {"p": "b", "s": "System Call", "x": 0.75, "lo": 2300, "hi": 10300},
      {"p": "b", "s": "System Call", "x": 0.762, "lo": 2300, "hi": 10000},
      {"p": "b", "s": "System Call", "x": 0.773, "lo": 2300, "hi": 18000},
      {"p": "b", "s": "System Call", "x": 0.785, "lo": 2300, "hi": 10100},
      {"p": "b", "s": "System Call", "x": 0.805, "lo": 270, "hi": 10000},
      {"p": "b", "s": "System Call", "x": 0.825, "lo": 2300, "hi": 10200},
      {"p": "b", "s": "System Call", "x": 0.84, "lo": 270, "hi": 20000},
      {"p": "b", "s": "System Call", "x": 0.855, "lo": 2300, "hi": 10000},
      {"p": "b", "s": "System Call", "x": 0.865, "lo": 2300, "hi": 10300},
      {"p": "b", "s": "System Call", "x": 0.878, "lo": 2300, "hi": 10000},
      {"p": "b", "s": "System Call", "x": 0.892, "lo": 2300, "hi": 65000},
      {"p": "b", "s": "System Call", "x": 0.902, "lo": 2300, "hi": 10200},
      {"p": "b", "s": "System Call", "x": 0.915, "lo": 2300, "hi": 10000},
      {"p": "b", "s": "System Call", "x": 0.928, "lo": 2300, "hi": 10300},
      {"p": "b", "s": "System Call", "x": 0.94, "lo": 2300, "hi": 10000},
      {"p": "b", "s": "System Call", "x": 0.955, "lo": 270, "hi": 10100},
      {"p": "b", "s": "System Call", "x": 0.972, "lo": 2300, "hi": 10200},
      {"p": "b", "s": "System Call", "x": 0.981, "lo": 2300, "hi": 135000},
      {"p": "b", "s": "System Call", "x": 0.992, "lo": 2300, "hi": 10000},

      {"p": "c", "s": "TSC", "x": 0.012, "lo": 195000, "hi": 2700000},
      {"p": "c", "s": "TSC", "x": 0.105, "lo": 195000, "hi": 2000000},
      {"p": "c", "s": "TSC", "x": 0.331, "lo": 195000, "hi": 2000000},
      {"p": "c", "s": "TSC", "x": 0.428, "lo": 195000, "hi": 2700000},
      {"p": "c", "s": "TSC", "x": 0.596, "lo": 195000, "hi": 2000000},
      {"p": "c", "s": "TSC", "x": 0.67, "lo": 195000, "hi": 2250000},
      {"p": "c", "s": "TSC", "x": 0.746, "lo": 195000, "hi": 2200000},
      {"p": "c", "s": "TSC", "x": 0.838, "lo": 195000, "hi": 1650000},
      {"p": "c", "s": "TSC", "x": 0.866, "lo": 195000, "hi": 1700000},
      {"p": "c", "s": "TSC", "x": 0.29, "lo": 195000, "hi": 930000},
      {"p": "c", "s": "TSC", "x": 0.419, "lo": 195000, "hi": 600000},
      {"p": "c", "s": "TSC", "x": 0.005, "lo": 195000, "hi": 800000},
      {"p": "c", "s": "TSC", "x": 0.026, "lo": 195000, "hi": 790000},
      {"p": "c", "s": "TSC", "x": 0.046, "lo": 195000, "hi": 800000},
      {"p": "c", "s": "TSC", "x": 0.058, "lo": 195000, "hi": 800000},
      {"p": "c", "s": "TSC", "x": 0.098, "lo": 195000, "hi": 790000},
      {"p": "c", "s": "TSC", "x": 0.119, "lo": 195000, "hi": 800000},
      {"p": "c", "s": "TSC", "x": 0.127, "lo": 195000, "hi": 800000},
      {"p": "c", "s": "TSC", "x": 0.165, "lo": 195000, "hi": 790000},
      {"p": "c", "s": "TSC", "x": 0.34, "lo": 195000, "hi": 800000},
      {"p": "c", "s": "TSC", "x": 0.359, "lo": 195000, "hi": 800000},
      {"p": "c", "s": "TSC", "x": 0.44, "lo": 195000, "hi": 790000},
      {"p": "c", "s": "TSC", "x": 0.526, "lo": 195000, "hi": 800000},
      {"p": "c", "s": "TSC", "x": 0.552, "lo": 195000, "hi": 800000},
      {"p": "c", "s": "TSC", "x": 0.576, "lo": 195000, "hi": 790000},
      {"p": "c", "s": "TSC", "x": 0.583, "lo": 195000, "hi": 800000},
      {"p": "c", "s": "TSC", "x": 0.652, "lo": 195000, "hi": 820000},
      {"p": "c", "s": "TSC", "x": 0.725, "lo": 195000, "hi": 800000},
      {"p": "c", "s": "TSC", "x": 0.788, "lo": 195000, "hi": 800000},
      {"p": "c", "s": "TSC", "x": 0.816, "lo": 195000, "hi": 790000},
      {"p": "c", "s": "TSC", "x": 0.973, "lo": 195000, "hi": 800000},
      {"p": "c", "s": "TSC", "x": 0.993, "lo": 195000, "hi": 800000},
      {"p": "c", "s": "TSC", "x": 0.03, "lo": 195000, "hi": 260000},
      {"p": "c", "s": "TSC", "x": 0.08, "lo": 195000, "hi": 240000},
      {"p": "c", "s": "TSC", "x": 0.14, "lo": 195000, "hi": 280000},
      {"p": "c", "s": "TSC", "x": 0.2, "lo": 195000, "hi": 250000},
      {"p": "c", "s": "TSC", "x": 0.24, "lo": 195000, "hi": 270000},
      {"p": "c", "s": "TSC", "x": 0.31, "lo": 195000, "hi": 240000},
      {"p": "c", "s": "TSC", "x": 0.37, "lo": 195000, "hi": 280000},
      {"p": "c", "s": "TSC", "x": 0.46, "lo": 195000, "hi": 250000},
      {"p": "c", "s": "TSC", "x": 0.5, "lo": 195000, "hi": 270000},
      {"p": "c", "s": "TSC", "x": 0.56, "lo": 195000, "hi": 240000},
      {"p": "c", "s": "TSC", "x": 0.62, "lo": 195000, "hi": 280000},
      {"p": "c", "s": "TSC", "x": 0.7, "lo": 195000, "hi": 260000},
      {"p": "c", "s": "TSC", "x": 0.77, "lo": 195000, "hi": 250000},
      {"p": "c", "s": "TSC", "x": 0.85, "lo": 195000, "hi": 270000},
      {"p": "c", "s": "TSC", "x": 0.9, "lo": 195000, "hi": 240000},
      {"p": "c", "s": "TSC", "x": 0.95, "lo": 195000, "hi": 280000},
      {"p": "c", "s": "System Call", "x": 0.149, "lo": 195000, "hi": 780000},
      {"p": "c", "s": "System Call", "x": 0.172, "lo": 195000, "hi": 800000},
      {"p": "c", "s": "System Call", "x": 0.179, "lo": 195000, "hi": 850000},
      {"p": "c", "s": "System Call", "x": 0.216, "lo": 195000, "hi": 800000},
      {"p": "c", "s": "System Call", "x": 0.246, "lo": 195000, "hi": 800000},
      {"p": "c", "s": "System Call", "x": 0.302, "lo": 195000, "hi": 790000},
      {"p": "c", "s": "System Call", "x": 0.454, "lo": 195000, "hi": 800000},
      {"p": "c", "s": "System Call", "x": 0.483, "lo": 195000, "hi": 800000},
      {"p": "c", "s": "System Call", "x": 0.515, "lo": 195000, "hi": 790000},
      {"p": "c", "s": "System Call", "x": 0.541, "lo": 195000, "hi": 800000},
      {"p": "c", "s": "System Call", "x": 0.754, "lo": 195000, "hi": 800000},
      {"p": "c", "s": "System Call", "x": 0.786, "lo": 195000, "hi": 790000},
      {"p": "c", "s": "System Call", "x": 0.805, "lo": 195000, "hi": 800000},
      {"p": "c", "s": "System Call", "x": 0.83, "lo": 195000, "hi": 800000},
      {"p": "c", "s": "System Call", "x": 0.94, "lo": 195000, "hi": 790000},
      {"p": "c", "s": "System Call", "x": 0.39, "lo": 195000, "hi": 490000},
      {"p": "c", "s": "System Call", "x": 0.854, "lo": 195000, "hi": 620000},
      {"p": "c", "s": "System Call", "x": 0.02, "lo": 195000, "hi": 250000},
      {"p": "c", "s": "System Call", "x": 0.06, "lo": 195000, "hi": 270000},
      {"p": "c", "s": "System Call", "x": 0.11, "lo": 195000, "hi": 240000},
      {"p": "c", "s": "System Call", "x": 0.19, "lo": 195000, "hi": 260000},
      {"p": "c", "s": "System Call", "x": 0.26, "lo": 195000, "hi": 280000},
      {"p": "c", "s": "System Call", "x": 0.325, "lo": 195000, "hi": 250000},
      {"p": "c", "s": "System Call", "x": 0.4, "lo": 195000, "hi": 270000},
      {"p": "c", "s": "System Call", "x": 0.432, "lo": 195000, "hi": 240000},
      {"p": "c", "s": "System Call", "x": 0.49, "lo": 195000, "hi": 260000},
      {"p": "c", "s": "System Call", "x": 0.53, "lo": 195000, "hi": 280000},
      {"p": "c", "s": "System Call", "x": 0.6, "lo": 195000, "hi": 250000},
      {"p": "c", "s": "System Call", "x": 0.66, "lo": 195000, "hi": 270000},
      {"p": "c", "s": "System Call", "x": 0.72, "lo": 195000, "hi": 240000},
      {"p": "c", "s": "System Call", "x": 0.8, "lo": 195000, "hi": 260000},
      {"p": "c", "s": "System Call", "x": 0.88, "lo": 195000, "hi": 280000},
      {"p": "c", "s": "System Call", "x": 0.92, "lo": 195000, "hi": 250000},
      {"p": "c", "s": "System Call", "x": 0.98, "lo": 195000, "hi": 270000},
      {"p": "c", "s": "System Call", "x": 0.005, "lo": 660, "hi": 2040},
      {"p": "c", "s": "System Call", "x": 0.023, "lo": 1290, "hi": 2040},
      {"p": "c", "s": "System Call", "x": 0.043, "lo": 83, "hi": 2040},
      {"p": "c", "s": "System Call", "x": 0.054, "lo": 1180, "hi": 2040},
      {"p": "c", "s": "System Call", "x": 0.067, "lo": 1180, "hi": 2040},
      {"p": "c", "s": "System Call", "x": 0.081, "lo": 475, "hi": 2040},
      {"p": "c", "s": "System Call", "x": 0.095, "lo": 560, "hi": 2040},
      {"p": "c", "s": "System Call", "x": 0.119, "lo": 125, "hi": 2040},
      {"p": "c", "s": "System Call", "x": 0.15, "lo": 560, "hi": 2040},
      {"p": "c", "s": "System Call", "x": 0.184, "lo": 300, "hi": 2040},
      {"p": "c", "s": "System Call", "x": 0.201, "lo": 1390, "hi": 2040},
      {"p": "c", "s": "System Call", "x": 0.208, "lo": 475, "hi": 2040},
      {"p": "c", "s": "System Call", "x": 0.225, "lo": 235, "hi": 2040},
      {"p": "c", "s": "System Call", "x": 0.239, "lo": 560, "hi": 2040},
      {"p": "c", "s": "System Call", "x": 0.26, "lo": 915, "hi": 2040},
      {"p": "c", "s": "System Call", "x": 0.287, "lo": 560, "hi": 2040},
      {"p": "c", "s": "System Call", "x": 0.301, "lo": 720, "hi": 2040},
      {"p": "c", "s": "System Call", "x": 0.321, "lo": 290, "hi": 2040},
      {"p": "c", "s": "System Call", "x": 0.342, "lo": 475, "hi": 2040},
      {"p": "c", "s": "System Call", "x": 0.37, "lo": 370, "hi": 2040},
      {"p": "c", "s": "System Call", "x": 0.39, "lo": 34, "hi": 2040},
      {"p": "c", "s": "System Call", "x": 0.4, "lo": 780, "hi": 2040},
      {"p": "c", "s": "System Call", "x": 0.418, "lo": 660, "hi": 2040},
      {"p": "c", "s": "System Call", "x": 0.438, "lo": 475, "hi": 2040},
      {"p": "c", "s": "System Call", "x": 0.459, "lo": 15, "hi": 2040},
      {"p": "c", "s": "System Call", "x": 0.479, "lo": 660, "hi": 2040},
      {"p": "c", "s": "System Call", "x": 0.507, "lo": 148, "hi": 2040},
      {"p": "c", "s": "System Call", "x": 0.527, "lo": 915, "hi": 2040},
      {"p": "c", "s": "System Call", "x": 0.548, "lo": 475, "hi": 2040},
      {"p": "c", "s": "System Call", "x": 0.582, "lo": 116, "hi": 2040},
      {"p": "c", "s": "System Call", "x": 0.603, "lo": 915, "hi": 2040},
      {"p": "c", "s": "System Call", "x": 0.63, "lo": 660, "hi": 2040},
      {"p": "c", "s": "System Call", "x": 0.644, "lo": 370, "hi": 2040},
      {"p": "c", "s": "System Call", "x": 0.661, "lo": 116, "hi": 2040},
      {"p": "c", "s": "System Call", "x": 0.692, "lo": 1000, "hi": 2040},
      {"p": "c", "s": "System Call", "x": 0.723, "lo": 245, "hi": 2040},
      {"p": "c", "s": "System Call", "x": 0.747, "lo": 915, "hi": 2040},
      {"p": "c", "s": "System Call", "x": 0.782, "lo": 585, "hi": 2040},
      {"p": "c", "s": "System Call", "x": 0.799, "lo": 1290, "hi": 2040},
      {"p": "c", "s": "System Call", "x": 0.816, "lo": 475, "hi": 2040},
      {"p": "c", "s": "System Call", "x": 0.837, "lo": 660, "hi": 2040},
      {"p": "c", "s": "System Call", "x": 0.854, "lo": 10, "hi": 2040},
      {"p": "c", "s": "System Call", "x": 0.861, "lo": 20, "hi": 2040},
      {"p": "c", "s": "System Call", "x": 0.867, "lo": 10, "hi": 2040},
      {"p": "c", "s": "System Call", "x": 0.874, "lo": 40, "hi": 2040},
      {"p": "c", "s": "System Call", "x": 0.881, "lo": 10, "hi": 2040},
      {"p": "c", "s": "System Call", "x": 0.891, "lo": 12, "hi": 2040},
      {"p": "c", "s": "System Call", "x": 0.898, "lo": 60, "hi": 2040},
      {"p": "c", "s": "System Call", "x": 0.905, "lo": 10, "hi": 2040},
      {"p": "c", "s": "System Call", "x": 0.919, "lo": 720, "hi": 2040},
      {"p": "c", "s": "System Call", "x": 0.94, "lo": 435, "hi": 2040},
      {"p": "c", "s": "System Call", "x": 0.96, "lo": 850, "hi": 2040},
      {"p": "c", "s": "System Call", "x": 0.988, "lo": 475, "hi": 2040},
      {"p": "c", "s": "System Call", "x": 0.995, "lo": 660, "hi": 2040},

      {"p": "d", "s": "TSC", "x": 0.015, "lo": 38, "hi": 65000},
      {"p": "d", "s": "TSC", "x": 0.072, "lo": 38, "hi": 60000},
      {"p": "d", "s": "TSC", "x": 0.083, "lo": 38, "hi": 58000},
      {"p": "d", "s": "TSC", "x": 0.105, "lo": 38, "hi": 62000},
      {"p": "d", "s": "TSC", "x": 0.112, "lo": 38, "hi": 60000},
      {"p": "d", "s": "TSC", "x": 0.143, "lo": 38, "hi": 64000},
      {"p": "d", "s": "TSC", "x": 0.149, "lo": 38, "hi": 45000},
      {"p": "d", "s": "TSC", "x": 0.178, "lo": 38, "hi": 60000},
      {"p": "d", "s": "TSC", "x": 0.221, "lo": 38, "hi": 62000},
      {"p": "d", "s": "TSC", "x": 0.287, "lo": 38, "hi": 58000},
      {"p": "d", "s": "TSC", "x": 0.315, "lo": 38, "hi": 60000},
      {"p": "d", "s": "TSC", "x": 0.342, "lo": 38, "hi": 64000},
      {"p": "d", "s": "TSC", "x": 0.397, "lo": 38, "hi": 62000},
      {"p": "d", "s": "TSC", "x": 0.401, "lo": 38, "hi": 62000},
      {"p": "d", "s": "TSC", "x": 0.405, "lo": 38, "hi": 62000},
      {"p": "d", "s": "TSC", "x": 0.487, "lo": 38, "hi": 60000},
      {"p": "d", "s": "TSC", "x": 0.521, "lo": 38, "hi": 62000},
      {"p": "d", "s": "TSC", "x": 0.542, "lo": 38, "hi": 64000},
      {"p": "d", "s": "TSC", "x": 0.607, "lo": 38, "hi": 60000},
      {"p": "d", "s": "TSC", "x": 0.724, "lo": 38, "hi": 830000},
      {"p": "d", "s": "TSC", "x": 0.741, "lo": 38, "hi": 62000},
      {"p": "d", "s": "TSC", "x": 0.748, "lo": 38, "hi": 60000},
      {"p": "d", "s": "TSC", "x": 0.757, "lo": 38, "hi": 58000},
      {"p": "d", "s": "TSC", "x": 0.817, "lo": 38, "hi": 56000},
      {"p": "d", "s": "TSC", "x": 0.828, "lo": 38, "hi": 60000},
      {"p": "d", "s": "TSC", "x": 0.864, "lo": 38, "hi": 64000},
      {"p": "d", "s": "TSC", "x": 0.881, "lo": 38, "hi": 58000},
      {"p": "d", "s": "TSC", "x": 0.927, "lo": 38, "hi": 60000},
      {"p": "d", "s": "TSC", "x": 0.95, "lo": 38, "hi": 40000},
      {"p": "d", "s": "TSC", "x": 0.984, "lo": 38, "hi": 62000},
      {"p": "d", "s": "TSC", "x": 0.05, "lo": 38, "hi": 6000},
      {"p": "d", "s": "TSC", "x": 0.12, "lo": 38, "hi": 6500},
      {"p": "d", "s": "TSC", "x": 0.2, "lo": 38, "hi": 6200},
      {"p": "d", "s": "TSC", "x": 0.26, "lo": 38, "hi": 6600},
      {"p": "d", "s": "TSC", "x": 0.35, "lo": 38, "hi": 6000},
      {"p": "d", "s": "TSC", "x": 0.455, "lo": 38, "hi": 6400},
      {"p": "d", "s": "TSC", "x": 0.56, "lo": 38, "hi": 6200},
      {"p": "d", "s": "TSC", "x": 0.625, "lo": 38, "hi": 6500},
      {"p": "d", "s": "TSC", "x": 0.69, "lo": 38, "hi": 6000},
      {"p": "d", "s": "TSC", "x": 0.78, "lo": 38, "hi": 6400},
      {"p": "d", "s": "TSC", "x": 0.84, "lo": 38, "hi": 6300},
      {"p": "d", "s": "TSC", "x": 0.9, "lo": 38, "hi": 6500},
      {"p": "d", "s": "TSC", "x": 0.97, "lo": 38, "hi": 6200},
      {"p": "d", "s": "TSC", "x": 0.09, "lo": 38, "hi": 11500},
      {"p": "d", "s": "TSC", "x": 0.33, "lo": 38, "hi": 11000},
      {"p": "d", "s": "TSC", "x": 0.6, "lo": 38, "hi": 12000},
      {"p": "d", "s": "TSC", "x": 0.96, "lo": 38, "hi": 12000},
      {"p": "d", "s": "System Call", "x": 0.008, "lo": 6000, "hi": 62000},
      {"p": "d", "s": "System Call", "x": 0.029, "lo": 290, "hi": 58000},
      {"p": "d", "s": "System Call", "x": 0.094, "lo": 6500, "hi": 64000},
      {"p": "d", "s": "System Call", "x": 0.106, "lo": 6500, "hi": 60000},
      {"p": "d", "s": "System Call", "x": 0.123, "lo": 290, "hi": 55000},
      {"p": "d", "s": "System Call", "x": 0.187, "lo": 6500, "hi": 62000},
      {"p": "d", "s": "System Call", "x": 0.193, "lo": 6500, "hi": 66000},
      {"p": "d", "s": "System Call", "x": 0.209, "lo": 6500, "hi": 60000},
      {"p": "d", "s": "System Call", "x": 0.218, "lo": 6500, "hi": 64000},
      {"p": "d", "s": "System Call", "x": 0.224, "lo": 6500, "hi": 62000},
      {"p": "d", "s": "System Call", "x": 0.232, "lo": 6500, "hi": 58000},
      {"p": "d", "s": "System Call", "x": 0.256, "lo": 6600, "hi": 62000},
      {"p": "d", "s": "System Call", "x": 0.268, "lo": 6600, "hi": 70000},
      {"p": "d", "s": "System Call", "x": 0.275, "lo": 6600, "hi": 64000},
      {"p": "d", "s": "System Call", "x": 0.306, "lo": 700, "hi": 60000},
      {"p": "d", "s": "System Call", "x": 0.321, "lo": 6500, "hi": 62000},
      {"p": "d", "s": "System Call", "x": 0.355, "lo": 6500, "hi": 64000},
      {"p": "d", "s": "System Call", "x": 0.368, "lo": 290, "hi": 60000},
      {"p": "d", "s": "System Call", "x": 0.372, "lo": 290, "hi": 62000},
      {"p": "d", "s": "System Call", "x": 0.388, "lo": 6800, "hi": 58000},
      {"p": "d", "s": "System Call", "x": 0.415, "lo": 6800, "hi": 62000},
      {"p": "d", "s": "System Call", "x": 0.421, "lo": 6800, "hi": 68000},
      {"p": "d", "s": "System Call", "x": 0.428, "lo": 6800, "hi": 66000},
      {"p": "d", "s": "System Call", "x": 0.435, "lo": 6800, "hi": 62000},
      {"p": "d", "s": "System Call", "x": 0.445, "lo": 400, "hi": 60000},
      {"p": "d", "s": "System Call", "x": 0.47, "lo": 6400, "hi": 62000},
      {"p": "d", "s": "System Call", "x": 0.478, "lo": 6400, "hi": 64000},
      {"p": "d", "s": "System Call", "x": 0.497, "lo": 6400, "hi": 62000},
      {"p": "d", "s": "System Call", "x": 0.506, "lo": 290, "hi": 60000},
      {"p": "d", "s": "System Call", "x": 0.517, "lo": 6400, "hi": 62000},
      {"p": "d", "s": "System Call", "x": 0.53, "lo": 6400, "hi": 66000},
      {"p": "d", "s": "System Call", "x": 0.541, "lo": 6400, "hi": 60000},
      {"p": "d", "s": "System Call", "x": 0.557, "lo": 6400, "hi": 68000},
      {"p": "d", "s": "System Call", "x": 0.567, "lo": 6400, "hi": 64000},
      {"p": "d", "s": "System Call", "x": 0.579, "lo": 150, "hi": 66000},
      {"p": "d", "s": "System Call", "x": 0.616, "lo": 6200, "hi": 62000},
      {"p": "d", "s": "System Call", "x": 0.631, "lo": 6200, "hi": 60000},
      {"p": "d", "s": "System Call", "x": 0.638, "lo": 6200, "hi": 62000},
      {"p": "d", "s": "System Call", "x": 0.707, "lo": 6400, "hi": 58000},
      {"p": "d", "s": "System Call", "x": 0.714, "lo": 6400, "hi": 62000},
      {"p": "d", "s": "System Call", "x": 0.747, "lo": 6400, "hi": 60000},
      {"p": "d", "s": "System Call", "x": 0.757, "lo": 6400, "hi": 64000},
      {"p": "d", "s": "System Call", "x": 0.766, "lo": 6400, "hi": 62000},
      {"p": "d", "s": "System Call", "x": 0.769, "lo": 6400, "hi": 68000},
      {"p": "d", "s": "System Call", "x": 0.789, "lo": 290, "hi": 62000},
      {"p": "d", "s": "System Call", "x": 0.853, "lo": 6300, "hi": 62000},
      {"p": "d", "s": "System Call", "x": 0.868, "lo": 6300, "hi": 64000},
      {"p": "d", "s": "System Call", "x": 0.875, "lo": 300, "hi": 60000},
      {"p": "d", "s": "System Call", "x": 0.905, "lo": 6200, "hi": 62000},
      {"p": "d", "s": "System Call", "x": 0.924, "lo": 6200, "hi": 64000},
      {"p": "d", "s": "System Call", "x": 0.938, "lo": 290, "hi": 60000},
      {"p": "d", "s": "System Call", "x": 0.967, "lo": 6500, "hi": 62000},
      {"p": "d", "s": "System Call", "x": 0.975, "lo": 6500, "hi": 66000},
      {"p": "d", "s": "System Call", "x": 0.994, "lo": 6500, "hi": 62000},
      {"p": "d", "s": "System Call", "x": 0.065, "lo": 6500, "hi": 11000},
      {"p": "d", "s": "System Call", "x": 0.14, "lo": 6400, "hi": 11500},
      {"p": "d", "s": "System Call", "x": 0.2, "lo": 6500, "hi": 11000},
      {"p": "d", "s": "System Call", "x": 0.33, "lo": 6500, "hi": 12000},
      {"p": "d", "s": "System Call", "x": 0.41, "lo": 6800, "hi": 11000},
      {"p": "d", "s": "System Call", "x": 0.55, "lo": 6400, "hi": 11500},
      {"p": "d", "s": "System Call", "x": 0.73, "lo": 6400, "hi": 11000},
      {"p": "d", "s": "System Call", "x": 0.82, "lo": 6300, "hi": 12000},
      {"p": "d", "s": "System Call", "x": 0.91, "lo": 6200, "hi": 11000},
      {"p": "d", "s": "System Call", "x": 0.96, "lo": 6500, "hi": 11500},

      {"p": "e", "s": "TSC", "x": 0.025, "lo": 35, "hi": 9500},
      {"p": "e", "s": "TSC", "x": 0.101, "lo": 35, "hi": 12000},
      {"p": "e", "s": "TSC", "x": 0.111, "lo": 35, "hi": 12000},
      {"p": "e", "s": "TSC", "x": 0.261, "lo": 35, "hi": 20000},
      {"p": "e", "s": "TSC", "x": 0.31, "lo": 35, "hi": 11000},
      {"p": "e", "s": "TSC", "x": 0.58, "lo": 35, "hi": 11700},
      {"p": "e", "s": "TSC", "x": 0.846, "lo": 31, "hi": 11700},
      {"p": "e", "s": "TSC", "x": 0.88, "lo": 31, "hi": 20000},
      {"p": "e", "s": "TSC", "x": 0.919, "lo": 31, "hi": 63000},
      {"p": "e", "s": "TSC", "x": 0.93, "lo": 31, "hi": 12000},
      {"p": "e", "s": "TSC", "x": 0.937, "lo": 31, "hi": 12000},
      {"p": "e", "s": "TSC", "x": 0.979, "lo": 31, "hi": 13000},
      {"p": "e", "s": "TSC", "x": 0.04, "lo": 35, "hi": 7600},
      {"p": "e", "s": "TSC", "x": 0.065, "lo": 35, "hi": 7400},
      {"p": "e", "s": "TSC", "x": 0.13, "lo": 35, "hi": 7800},
      {"p": "e", "s": "TSC", "x": 0.145, "lo": 35, "hi": 7500},
      {"p": "e", "s": "TSC", "x": 0.17, "lo": 35, "hi": 7700},
      {"p": "e", "s": "TSC", "x": 0.2, "lo": 35, "hi": 7400},
      {"p": "e", "s": "TSC", "x": 0.22, "lo": 35, "hi": 7800},
      {"p": "e", "s": "TSC", "x": 0.245, "lo": 35, "hi": 7600},
      {"p": "e", "s": "TSC", "x": 0.28, "lo": 35, "hi": 7500},
      {"p": "e", "s": "TSC", "x": 0.32, "lo": 35, "hi": 7700},
      {"p": "e", "s": "TSC", "x": 0.34, "lo": 35, "hi": 7400},
      {"p": "e", "s": "TSC", "x": 0.37, "lo": 35, "hi": 7800},
      {"p": "e", "s": "TSC", "x": 0.39, "lo": 35, "hi": 7600},
      {"p": "e", "s": "TSC", "x": 0.41, "lo": 35, "hi": 7500},
      {"p": "e", "s": "TSC", "x": 0.435, "lo": 35, "hi": 7700},
      {"p": "e", "s": "TSC", "x": 0.46, "lo": 35, "hi": 7400},
      {"p": "e", "s": "TSC", "x": 0.48, "lo": 35, "hi": 7800},
      {"p": "e", "s": "TSC", "x": 0.505, "lo": 35, "hi": 7600},
      {"p": "e", "s": "TSC", "x": 0.53, "lo": 35, "hi": 7500},
      {"p": "e", "s": "TSC", "x": 0.55, "lo": 35, "hi": 7700},
      {"p": "e", "s": "TSC", "x": 0.57, "lo": 35, "hi": 7400},
      {"p": "e", "s": "TSC", "x": 0.62, "lo": 35, "hi": 7800},
      {"p": "e", "s": "TSC", "x": 0.635, "lo": 35, "hi": 7600},
      {"p": "e", "s": "TSC", "x": 0.655, "lo": 35, "hi": 7500},
      {"p": "e", "s": "TSC", "x": 0.68, "lo": 35, "hi": 7700},
      {"p": "e", "s": "TSC", "x": 0.7, "lo": 35, "hi": 7400},
      {"p": "e", "s": "TSC", "x": 0.74, "lo": 31, "hi": 7800},
      {"p": "e", "s": "TSC", "x": 0.76, "lo": 31, "hi": 7600},
      {"p": "e", "s": "TSC", "x": 0.78, "lo": 31, "hi": 7500},
      {"p": "e", "s": "TSC", "x": 0.793, "lo": 31, "hi": 7700},
      {"p": "e", "s": "TSC", "x": 0.81, "lo": 31, "hi": 7400},
      {"p": "e", "s": "TSC", "x": 0.86, "lo": 31, "hi": 7800},
      {"p": "e", "s": "TSC", "x": 0.87, "lo": 31, "hi": 7600},
      {"p": "e", "s": "TSC", "x": 0.895, "lo": 31, "hi": 7500},
      {"p": "e", "s": "TSC", "x": 0.95, "lo": 31, "hi": 7700},
      {"p": "e", "s": "TSC", "x": 0.965, "lo": 31, "hi": 7800},
      {"p": "e", "s": "TSC", "x": 0.988, "lo": 31, "hi": 7600},
      {"p": "e", "s": "TSC", "x": 0.05, "lo": 35, "hi": 3100},
      {"p": "e", "s": "TSC", "x": 0.095, "lo": 35, "hi": 3100},
      {"p": "e", "s": "TSC", "x": 0.155, "lo": 35, "hi": 3100},
      {"p": "e", "s": "TSC", "x": 0.21, "lo": 35, "hi": 3100},
      {"p": "e", "s": "TSC", "x": 0.27, "lo": 35, "hi": 3100},
      {"p": "e", "s": "TSC", "x": 0.363, "lo": 35, "hi": 3100},
      {"p": "e", "s": "TSC", "x": 0.44, "lo": 35, "hi": 3100},
      {"p": "e", "s": "TSC", "x": 0.51, "lo": 35, "hi": 3100},
      {"p": "e", "s": "TSC", "x": 0.604, "lo": 35, "hi": 3100},
      {"p": "e", "s": "TSC", "x": 0.645, "lo": 35, "hi": 3100},
      {"p": "e", "s": "TSC", "x": 0.725, "lo": 31, "hi": 3100},
      {"p": "e", "s": "TSC", "x": 0.75, "lo": 31, "hi": 3100},
      {"p": "e", "s": "TSC", "x": 0.8, "lo": 31, "hi": 3100},
      {"p": "e", "s": "TSC", "x": 0.855, "lo": 31, "hi": 3100},
      {"p": "e", "s": "TSC", "x": 0.91, "lo": 31, "hi": 3100},
      {"p": "e", "s": "TSC", "x": 0.972, "lo": 31, "hi": 3100},
      {"p": "e", "s": "System Call", "x": 0.005, "lo": 3300, "hi": 7600},
      {"p": "e", "s": "System Call", "x": 0.027, "lo": 80, "hi": 9500},
      {"p": "e", "s": "System Call", "x": 0.07, "lo": 3100, "hi": 7500},
      {"p": "e", "s": "System Call", "x": 0.082, "lo": 3100, "hi": 7700},
      {"p": "e", "s": "System Call", "x": 0.088, "lo": 3100, "hi": 26000},
      {"p": "e", "s": "System Call", "x": 0.105, "lo": 3200, "hi": 7600},
      {"p": "e", "s": "System Call", "x": 0.12, "lo": 3200, "hi": 7400},
      {"p": "e", "s": "System Call", "x": 0.165, "lo": 85, "hi": 7700},
      {"p": "e", "s": "System Call", "x": 0.185, "lo": 3100, "hi": 7600},
      {"p": "e", "s": "System Call", "x": 0.195, "lo": 3100, "hi": 7500},
      {"p": "e", "s": "System Call", "x": 0.23, "lo": 3200, "hi": 7700},
      {"p": "e", "s": "System Call", "x": 0.25, "lo": 3200, "hi": 7400},
      {"p": "e", "s": "System Call", "x": 0.267, "lo": 80, "hi": 16500},
      {"p": "e", "s": "System Call", "x": 0.29, "lo": 3300, "hi": 7600},
      {"p": "e", "s": "System Call", "x": 0.3, "lo": 3300, "hi": 7700},
      {"p": "e", "s": "System Call", "x": 0.335, "lo": 3000, "hi": 7500},
      {"p": "e", "s": "System Call", "x": 0.35, "lo": 3000, "hi": 11000},
      {"p": "e", "s": "System Call", "x": 0.385, "lo": 3100, "hi": 7600},
      {"p": "e", "s": "System Call", "x": 0.4, "lo": 3100, "hi": 7400},
      {"p": "e", "s": "System Call", "x": 0.42, "lo": 3100, "hi": 7700},
      {"p": "e", "s": "System Call", "x": 0.455, "lo": 3300, "hi": 7600},
      {"p": "e", "s": "System Call", "x": 0.47, "lo": 3300, "hi": 7500},
      {"p": "e", "s": "System Call", "x": 0.49, "lo": 3300, "hi": 7700},
      {"p": "e", "s": "System Call", "x": 0.525, "lo": 3100, "hi": 7600},
      {"p": "e", "s": "System Call", "x": 0.54, "lo": 3100, "hi": 7400},
      {"p": "e", "s": "System Call", "x": 0.56, "lo": 3100, "hi": 7700},
      {"p": "e", "s": "System Call", "x": 0.59, "lo": 3000, "hi": 7600},
      {"p": "e", "s": "System Call", "x": 0.599, "lo": 3000, "hi": 11000},
      {"p": "e", "s": "System Call", "x": 0.61, "lo": 3000, "hi": 7500},
      {"p": "e", "s": "System Call", "x": 0.645, "lo": 3200, "hi": 7700},
      {"p": "e", "s": "System Call", "x": 0.66, "lo": 3200, "hi": 7600},
      {"p": "e", "s": "System Call", "x": 0.695, "lo": 3300, "hi": 7400},
      {"p": "e", "s": "System Call", "x": 0.71, "lo": 3300, "hi": 7700},
      {"p": "e", "s": "System Call", "x": 0.73, "lo": 80, "hi": 7600},
      {"p": "e", "s": "System Call", "x": 0.77, "lo": 2800, "hi": 7500},
      {"p": "e", "s": "System Call", "x": 0.8, "lo": 75, "hi": 7700},
      {"p": "e", "s": "System Call", "x": 0.823, "lo": 3100, "hi": 58000},
      {"p": "e", "s": "System Call", "x": 0.832, "lo": 3100, "hi": 12000},
      {"p": "e", "s": "System Call", "x": 0.84, "lo": 3100, "hi": 7600},
      {"p": "e", "s": "System Call", "x": 0.88, "lo": 3000, "hi": 7400},
      {"p": "e", "s": "System Call", "x": 0.9, "lo": 3000, "hi": 7700},
      {"p": "e", "s": "System Call", "x": 0.945, "lo": 3300, "hi": 7600},
      {"p": "e", "s": "System Call", "x": 0.96, "lo": 3300, "hi": 7500},
      {"p": "e", "s": "System Call", "x": 0.975, "lo": 3300, "hi": 7700},
      {"p": "e", "s": "System Call", "x": 0.99, "lo": 3300, "hi": 7600}
    ]
  },
  "hconcat": [
    {
      "width": 651, "height": 1052,
      "title": {"text": "1e7", "orient": "bottom", "anchor": "end", "frame": "group", "align": "center", "offset": -27, "font": "DejaVu Sans", "fontSize": 34, "fontWeight": "normal", "color": "black"},
      "layer": [
        {"data": {"name": "bands"}, "transform": [{"filter": "datum.p == 'a' && datum.s == 'TSC'"}],
         "mark": {"type": "rect", "opacity": 0.5},
         "encoding": {
           "x": {"field": "x", "type": "quantitative", "scale": {"domain": [0, 1], "nice": false, "zero": false},
                 "axis": {"values": [0, 0.2, 0.4, 0.6, 0.8, 1], "format": ".1f", "labelFlush": false, "labelPadding": 9, "tickSize": -10, "title": "a) Trials Host OS", "titleFont": "Liberation Serif", "titleFontSize": 50, "titleX": 290, "titlePadding": 2}},
           "x2": {"field": "x2"},
           "y": {"field": "lo", "type": "quantitative", "scale": {"type": "log", "domain": [10, 100000000], "nice": false},
                 "axis": {"values": [10,20,30,40,50,60,70,80,90,100,200,300,400,500,600,700,800,900,1000,2000,3000,4000,5000,6000,7000,8000,9000,10000,20000,30000,40000,50000,60000,70000,80000,90000,100000,200000,300000,400000,500000,600000,700000,800000,900000,1000000,2000000,3000000,4000000,5000000,6000000,7000000,8000000,9000000,10000000,20000000,30000000,40000000,50000000,60000000,70000000,80000000,90000000,100000000],
                          "labelExpr": "indexof([10,100,1000,10000,100000,1000000,10000000,100000000], datum.value) >= 0 ? '10' + ['¹','²','³','⁴','⁵','⁶','⁷','⁸'][round(log(datum.value) / LN10) - 1] : ''",
                          "labelOverlap": false, "labelPadding": 10,
                          "labelBaseline": {"condition": {"test": "datum.value == 10", "value": "bottom"}, "value": "middle"},
                          "tickSize": {"condition": {"test": "indexof([10,100,1000,10000,100000,1000000,10000000,100000000], datum.value) >= 0", "value": -10}, "value": -5},
                          "gridOpacity": {"condition": {"test": "indexof([10,100,1000,10000,100000,1000000,10000000,100000000], datum.value) >= 0", "value": 1}, "value": 0},
                          "title": "Time cost, nsec", "titleFont": "Liberation Serif", "titleFontSize": 76, "titlePadding": 0}},
           "y2": {"field": "hi"},
           "color": {"field": "s", "type": "nominal", "scale": {"domain": ["TSC", "System Call"], "range": ["#ff0000", "#0000ff"]},
                     "legend": {"title": null, "labelExpr": "datum.label == 'TSC' ? 'TSC, MD = 17.2 nsec' : 'System Call, MD = 27.0 nsec'"}}
         }},
        {"data": {"name": "spikes"}, "transform": [{"filter": "datum.p == 'a' && datum.s == 'TSC'"}],
         "mark": {"type": "rule", "opacity": 0.5, "strokeWidth": 2.5},
         "encoding": {"x": {"field": "x", "type": "quantitative"}, "y": {"field": "lo", "type": "quantitative"}, "y2": {"field": "hi"}, "color": {"field": "s", "type": "nominal", "legend": null}}},
        {"data": {"name": "bands"}, "transform": [{"filter": "datum.p == 'a' && datum.s == 'System Call'"}],
         "mark": {"type": "rect", "opacity": 0.5},
         "encoding": {"x": {"field": "x", "type": "quantitative"}, "x2": {"field": "x2"}, "y": {"field": "lo", "type": "quantitative"}, "y2": {"field": "hi"}, "color": {"field": "s", "type": "nominal", "legend": null}}},
        {"data": {"name": "spikes"}, "transform": [{"filter": "datum.p == 'a' && datum.s == 'System Call'"}],
         "mark": {"type": "rule", "opacity": 0.5, "strokeWidth": 2.5},
         "encoding": {"x": {"field": "x", "type": "quantitative"}, "y": {"field": "lo", "type": "quantitative"}, "y2": {"field": "hi"}, "color": {"field": "s", "type": "nominal", "legend": null}}},
        {"data": {"name": "medians"}, "transform": [{"filter": "datum.p == 'a'"}],
         "mark": {"type": "rule", "strokeWidth": 5},
         "encoding": {"y": {"field": "md", "type": "quantitative"}, "color": {"field": "s", "type": "nominal", "legend": null}}}
      ]
    },
    {
      "width": 651, "height": 1052,
      "title": {"text": "1e7", "orient": "bottom", "anchor": "end", "frame": "group", "align": "center", "offset": -27, "font": "DejaVu Sans", "fontSize": 34, "fontWeight": "normal", "color": "black"},
      "layer": [
        {"data": {"name": "bands"}, "transform": [{"filter": "datum.p == 'b' && datum.s == 'TSC'"}],
         "mark": {"type": "rect", "opacity": 0.5},
         "encoding": {
           "x": {"field": "x", "type": "quantitative", "scale": {"domain": [0, 1], "nice": false, "zero": false},
                 "axis": {"values": [0, 0.2, 0.4, 0.6, 0.8, 1], "format": ".1f", "labelFlush": false, "labelPadding": 9, "tickSize": -10, "title": "b) Trials Xen", "titleFont": "Liberation Serif", "titleFontSize": 50, "titleX": 290, "titlePadding": 2}},
           "x2": {"field": "x2"},
           "y": {"field": "lo", "type": "quantitative", "scale": {"type": "log", "domain": [10, 100000000], "nice": false},
                 "axis": {"values": [10,20,30,40,50,60,70,80,90,100,200,300,400,500,600,700,800,900,1000,2000,3000,4000,5000,6000,7000,8000,9000,10000,20000,30000,40000,50000,60000,70000,80000,90000,100000,200000,300000,400000,500000,600000,700000,800000,900000,1000000,2000000,3000000,4000000,5000000,6000000,7000000,8000000,9000000,10000000,20000000,30000000,40000000,50000000,60000000,70000000,80000000,90000000,100000000],
                          "labels": false, "title": null,
                          "tickSize": {"condition": {"test": "indexof([10,100,1000,10000,100000,1000000,10000000,100000000], datum.value) >= 0", "value": -10}, "value": -5},
                          "gridOpacity": {"condition": {"test": "indexof([10,100,1000,10000,100000,1000000,10000000,100000000], datum.value) >= 0", "value": 1}, "value": 0}}},
           "y2": {"field": "hi"},
           "color": {"field": "s", "type": "nominal", "scale": {"domain": ["TSC", "System Call"], "range": ["#ff0000", "#0000ff"]},
                     "legend": {"title": null, "labelExpr": "datum.label == 'TSC' ? 'TSC, MD = 18.6 nsec' : 'System Call, MD = 119 nsec'"}}
         }},
        {"data": {"name": "spikes"}, "transform": [{"filter": "datum.p == 'b' && datum.s == 'TSC'"}],
         "mark": {"type": "rule", "opacity": 0.5, "strokeWidth": 2.5},
         "encoding": {"x": {"field": "x", "type": "quantitative"}, "y": {"field": "lo", "type": "quantitative"}, "y2": {"field": "hi"}, "color": {"field": "s", "type": "nominal", "legend": null}}},
        {"data": {"name": "bands"}, "transform": [{"filter": "datum.p == 'b' && datum.s == 'System Call'"}],
         "mark": {"type": "rect", "opacity": 0.5},
         "encoding": {"x": {"field": "x", "type": "quantitative"}, "x2": {"field": "x2"}, "y": {"field": "lo", "type": "quantitative"}, "y2": {"field": "hi"}, "color": {"field": "s", "type": "nominal", "legend": null}}},
        {"data": {"name": "spikes"}, "transform": [{"filter": "datum.p == 'b' && datum.s == 'System Call'"}],
         "mark": {"type": "rule", "opacity": 0.5, "strokeWidth": 2.5},
         "encoding": {"x": {"field": "x", "type": "quantitative"}, "y": {"field": "lo", "type": "quantitative"}, "y2": {"field": "hi"}, "color": {"field": "s", "type": "nominal", "legend": null}}},
        {"data": {"name": "medians"}, "transform": [{"filter": "datum.p == 'b'"}],
         "mark": {"type": "rule", "strokeWidth": 5},
         "encoding": {"y": {"field": "md", "type": "quantitative"}, "color": {"field": "s", "type": "nominal", "legend": null}}}
      ]
    },
    {
      "width": 651, "height": 1052,
      "title": {"text": "1e7", "orient": "bottom", "anchor": "end", "frame": "group", "align": "center", "offset": -27, "font": "DejaVu Sans", "fontSize": 34, "fontWeight": "normal", "color": "black"},
      "layer": [
        {"data": {"name": "bands"}, "transform": [{"filter": "datum.p == 'c' && datum.s == 'TSC'"}],
         "mark": {"type": "rect", "opacity": 0.5},
         "encoding": {
           "x": {"field": "x", "type": "quantitative", "scale": {"domain": [0, 1], "nice": false, "zero": false},
                 "axis": {"values": [0, 0.2, 0.4, 0.6, 0.8, 1], "format": ".1f", "labelFlush": false, "labelPadding": 9, "tickSize": -10, "title": "c) Trials VBox", "titleFont": "Liberation Serif", "titleFontSize": 50, "titleX": 290, "titlePadding": 2}},
           "x2": {"field": "x2"},
           "y": {"field": "lo", "type": "quantitative", "scale": {"type": "log", "domain": [10, 100000000], "nice": false},
                 "axis": {"values": [10,20,30,40,50,60,70,80,90,100,200,300,400,500,600,700,800,900,1000,2000,3000,4000,5000,6000,7000,8000,9000,10000,20000,30000,40000,50000,60000,70000,80000,90000,100000,200000,300000,400000,500000,600000,700000,800000,900000,1000000,2000000,3000000,4000000,5000000,6000000,7000000,8000000,9000000,10000000,20000000,30000000,40000000,50000000,60000000,70000000,80000000,90000000,100000000],
                          "labels": false, "title": null,
                          "tickSize": {"condition": {"test": "indexof([10,100,1000,10000,100000,1000000,10000000,100000000], datum.value) >= 0", "value": -10}, "value": -5},
                          "gridOpacity": {"condition": {"test": "indexof([10,100,1000,10000,100000,1000000,10000000,100000000], datum.value) >= 0", "value": 1}, "value": 0}}},
           "y2": {"field": "hi"},
           "color": {"field": "s", "type": "nominal", "scale": {"domain": ["TSC", "System Call"], "range": ["#ff0000", "#0000ff"]},
                     "legend": {"title": null, "labelExpr": "datum.label == 'TSC' ? 'TSC, MD = 2.05 μsec' : 'System Call, MD = 2.04 μsec'"}}
         }},
        {"data": {"name": "spikes"}, "transform": [{"filter": "datum.p == 'c' && datum.s == 'TSC'"}],
         "mark": {"type": "rule", "opacity": 0.5, "strokeWidth": 2.5},
         "encoding": {"x": {"field": "x", "type": "quantitative"}, "y": {"field": "lo", "type": "quantitative"}, "y2": {"field": "hi"}, "color": {"field": "s", "type": "nominal", "legend": null}}},
        {"data": {"name": "bands"}, "transform": [{"filter": "datum.p == 'c' && datum.s == 'System Call'"}],
         "mark": {"type": "rect", "opacity": 0.5},
         "encoding": {"x": {"field": "x", "type": "quantitative"}, "x2": {"field": "x2"}, "y": {"field": "lo", "type": "quantitative"}, "y2": {"field": "hi"}, "color": {"field": "s", "type": "nominal", "legend": null}}},
        {"data": {"name": "spikes"}, "transform": [{"filter": "datum.p == 'c' && datum.s == 'System Call'"}],
         "mark": {"type": "rule", "opacity": 0.5, "strokeWidth": 2.5},
         "encoding": {"x": {"field": "x", "type": "quantitative"}, "y": {"field": "lo", "type": "quantitative"}, "y2": {"field": "hi"}, "color": {"field": "s", "type": "nominal", "legend": null}}},
        {"data": {"name": "medians"}, "transform": [{"filter": "datum.p == 'c'"}],
         "mark": {"type": "rule", "strokeWidth": 5},
         "encoding": {"y": {"field": "md", "type": "quantitative"}, "color": {"field": "s", "type": "nominal", "legend": null}}}
      ]
    },
    {
      "width": 651, "height": 1052,
      "title": {"text": "1e7", "orient": "bottom", "anchor": "end", "frame": "group", "align": "center", "offset": -27, "font": "DejaVu Sans", "fontSize": 34, "fontWeight": "normal", "color": "black"},
      "layer": [
        {"data": {"name": "bands"}, "transform": [{"filter": "datum.p == 'd' && datum.s == 'TSC'"}],
         "mark": {"type": "rect", "opacity": 0.5},
         "encoding": {
           "x": {"field": "x", "type": "quantitative", "scale": {"domain": [0, 1], "nice": false, "zero": false},
                 "axis": {"values": [0, 0.2, 0.4, 0.6, 0.8, 1], "format": ".1f", "labelFlush": false, "labelPadding": 9, "tickSize": -10, "title": "d) Trials QEMU", "titleFont": "Liberation Serif", "titleFontSize": 50, "titleX": 290, "titlePadding": 2}},
           "x2": {"field": "x2"},
           "y": {"field": "lo", "type": "quantitative", "scale": {"type": "log", "domain": [10, 100000000], "nice": false},
                 "axis": {"values": [10,20,30,40,50,60,70,80,90,100,200,300,400,500,600,700,800,900,1000,2000,3000,4000,5000,6000,7000,8000,9000,10000,20000,30000,40000,50000,60000,70000,80000,90000,100000,200000,300000,400000,500000,600000,700000,800000,900000,1000000,2000000,3000000,4000000,5000000,6000000,7000000,8000000,9000000,10000000,20000000,30000000,40000000,50000000,60000000,70000000,80000000,90000000,100000000],
                          "labels": false, "title": null,
                          "tickSize": {"condition": {"test": "indexof([10,100,1000,10000,100000,1000000,10000000,100000000], datum.value) >= 0", "value": -10}, "value": -5},
                          "gridOpacity": {"condition": {"test": "indexof([10,100,1000,10000,100000,1000000,10000000,100000000], datum.value) >= 0", "value": 1}, "value": 0}}},
           "y2": {"field": "hi"},
           "color": {"field": "s", "type": "nominal", "scale": {"domain": ["TSC", "System Call"], "range": ["#ff0000", "#0000ff"]},
                     "legend": {"title": null, "labelExpr": "datum.label == 'TSC' ? 'TSC, MD = 21.5 nsec' : 'System Call, MD = 57.0 nsec'"}}
         }},
        {"data": {"name": "spikes"}, "transform": [{"filter": "datum.p == 'd' && datum.s == 'TSC'"}],
         "mark": {"type": "rule", "opacity": 0.5, "strokeWidth": 2.5},
         "encoding": {"x": {"field": "x", "type": "quantitative"}, "y": {"field": "lo", "type": "quantitative"}, "y2": {"field": "hi"}, "color": {"field": "s", "type": "nominal", "legend": null}}},
        {"data": {"name": "bands"}, "transform": [{"filter": "datum.p == 'd' && datum.s == 'System Call'"}],
         "mark": {"type": "rect", "opacity": 0.5},
         "encoding": {"x": {"field": "x", "type": "quantitative"}, "x2": {"field": "x2"}, "y": {"field": "lo", "type": "quantitative"}, "y2": {"field": "hi"}, "color": {"field": "s", "type": "nominal", "legend": null}}},
        {"data": {"name": "spikes"}, "transform": [{"filter": "datum.p == 'd' && datum.s == 'System Call'"}],
         "mark": {"type": "rule", "opacity": 0.5, "strokeWidth": 2.5},
         "encoding": {"x": {"field": "x", "type": "quantitative"}, "y": {"field": "lo", "type": "quantitative"}, "y2": {"field": "hi"}, "color": {"field": "s", "type": "nominal", "legend": null}}},
        {"data": {"name": "medians"}, "transform": [{"filter": "datum.p == 'd'"}],
         "mark": {"type": "rule", "strokeWidth": 5},
         "encoding": {"y": {"field": "md", "type": "quantitative"}, "color": {"field": "s", "type": "nominal", "legend": null}}}
      ]
    },
    {
      "width": 651, "height": 1052,
      "title": {"text": "1e7", "orient": "bottom", "anchor": "end", "frame": "group", "align": "center", "offset": -27, "font": "DejaVu Sans", "fontSize": 34, "fontWeight": "normal", "color": "black"},
      "layer": [
        {"data": {"name": "bands"}, "transform": [{"filter": "datum.p == 'e' && datum.s == 'TSC'"}],
         "mark": {"type": "rect", "opacity": 0.5},
         "encoding": {
           "x": {"field": "x", "type": "quantitative", "scale": {"domain": [0, 1], "nice": false, "zero": false},
                 "axis": {"values": [0, 0.2, 0.4, 0.6, 0.8, 1], "format": ".1f", "labelFlush": false, "labelPadding": 9, "tickSize": -10, "title": "e) Trials ESXi", "titleFont": "Liberation Serif", "titleFontSize": 50, "titleX": 290, "titlePadding": 2}},
           "x2": {"field": "x2"},
           "y": {"field": "lo", "type": "quantitative", "scale": {"type": "log", "domain": [10, 100000000], "nice": false},
                 "axis": {"values": [10,20,30,40,50,60,70,80,90,100,200,300,400,500,600,700,800,900,1000,2000,3000,4000,5000,6000,7000,8000,9000,10000,20000,30000,40000,50000,60000,70000,80000,90000,100000,200000,300000,400000,500000,600000,700000,800000,900000,1000000,2000000,3000000,4000000,5000000,6000000,7000000,8000000,9000000,10000000,20000000,30000000,40000000,50000000,60000000,70000000,80000000,90000000,100000000],
                          "labels": false, "title": null,
                          "tickSize": {"condition": {"test": "indexof([10,100,1000,10000,100000,1000000,10000000,100000000], datum.value) >= 0", "value": -10}, "value": -5},
                          "gridOpacity": {"condition": {"test": "indexof([10,100,1000,10000,100000,1000000,10000000,100000000], datum.value) >= 0", "value": 1}, "value": 0}}},
           "y2": {"field": "hi"},
           "color": {"field": "s", "type": "nominal", "scale": {"domain": ["TSC", "System Call"], "range": ["#ff0000", "#0000ff"]},
                     "legend": {"title": null, "labelExpr": "datum.label == 'TSC' ? 'TSC, MD = 20.1 nsec' : 'System Call, MD = 34.0 nsec'"}}
         }},
        {"data": {"name": "spikes"}, "transform": [{"filter": "datum.p == 'e' && datum.s == 'TSC'"}],
         "mark": {"type": "rule", "opacity": 0.5, "strokeWidth": 2.5},
         "encoding": {"x": {"field": "x", "type": "quantitative"}, "y": {"field": "lo", "type": "quantitative"}, "y2": {"field": "hi"}, "color": {"field": "s", "type": "nominal", "legend": null}}},
        {"data": {"name": "bands"}, "transform": [{"filter": "datum.p == 'e' && datum.s == 'System Call'"}],
         "mark": {"type": "rect", "opacity": 0.5},
         "encoding": {"x": {"field": "x", "type": "quantitative"}, "x2": {"field": "x2"}, "y": {"field": "lo", "type": "quantitative"}, "y2": {"field": "hi"}, "color": {"field": "s", "type": "nominal", "legend": null}}},
        {"data": {"name": "spikes"}, "transform": [{"filter": "datum.p == 'e' && datum.s == 'System Call'"}],
         "mark": {"type": "rule", "opacity": 0.5, "strokeWidth": 2.5},
         "encoding": {"x": {"field": "x", "type": "quantitative"}, "y": {"field": "lo", "type": "quantitative"}, "y2": {"field": "hi"}, "color": {"field": "s", "type": "nominal", "legend": null}}},
        {"data": {"name": "medians"}, "transform": [{"filter": "datum.p == 'e'"}],
         "mark": {"type": "rule", "strokeWidth": 5},
         "encoding": {"y": {"field": "md", "type": "quantitative"}, "color": {"field": "s", "type": "nominal", "legend": null}}}
      ]
    }
  ]
}
